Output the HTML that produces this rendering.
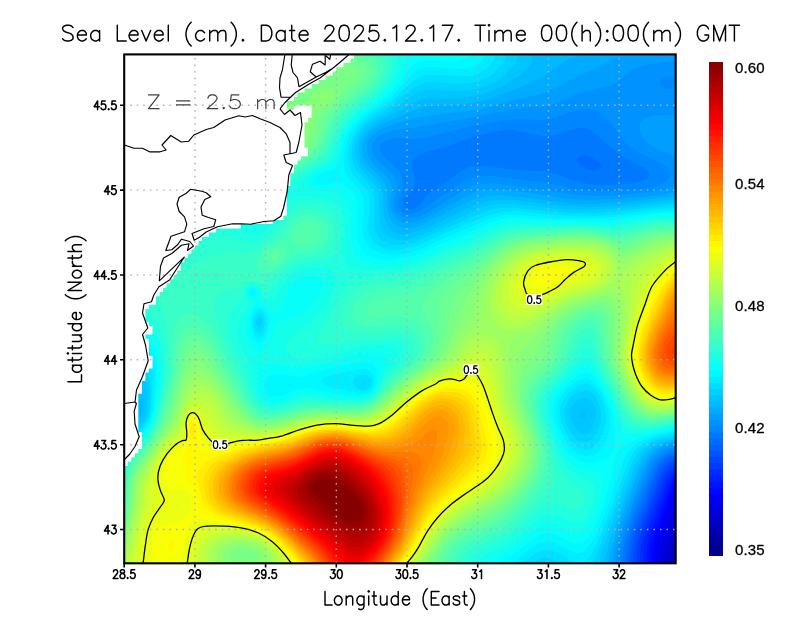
<!DOCTYPE html><html><head><meta charset="utf-8"><title>Sea Level</title><style>html,body{margin:0;padding:0;background:#fff}body{position:relative;width:800px;height:618px;overflow:hidden;font-family:"Liberation Sans",sans-serif}svg{display:block}.cb{position:absolute;left:734.9px;letter-spacing:0.12px;font-family:"Liberation Sans",sans-serif;font-size:15px;line-height:18px;height:18px;color:#000;-webkit-text-stroke:0.3px #000;will-change:transform;white-space:nowrap}</style></head><body><svg role="img" aria-label="Sea Level (cm) map" width="800" height="618" viewBox="0 0 800 618"><rect width="800" height="618" fill="#fff"/><g><clipPath id="pc"><rect x="124.2" y="54.4" width="551.5" height="508.9"/></clipPath><g clip-path="url(#pc)" fill-rule="evenodd" shape-rendering="geometricPrecision"><rect x="124.2" y="54.4" width="551.5" height="508.9" fill="#0000ac"/><path d="M121 51l555 0 0 513 -555 0z" fill="#0000b9"/><path d="M121 51l555 0 0 503 -3 5 -2 5 -550 0z" fill="#0000c6"/><path d="M121 51l555 0 0 488 -3 6 -3 7 -3 12 -546 0z" fill="#0000d2"/><path d="M121 51l555 0 0 464 -10 34 -2 7 -1 8 -542 0z" fill="#0000df"/><path d="M121 51l555 0 0 449 -14 43 -1 9 -1 12 -539 0z" fill="#0000ec"/><path d="M121 51l555 0 0 440 -3 7 -14 42 -2 12 -1 12 -535 0z" fill="#0000f9"/><path d="M121 51l555 0 0 434 -3 5 -2 5 -15 42 -2 9 -1 6 0 12 -532 0z" fill="#0006ff"/><path d="M121 51l555 0 0 428 -3 4 -3 7 -16 44 -4 15 0 6 0 9 -529 0z" fill="#0013ff"/><path d="M121 51l555 0 0 424 -3 3 -4 8 -18 45 -2 9 -2 9 -1 6 1 9 -526 0z" fill="#0020ff"/><path d="M121 51l555 0 0 420 -4 3 -5 9 -18 45 -3 9 -2 9 -1 9 1 9 -523 0z" fill="#002dff"/><path d="M121 51l555 0 0 416 -3 2 -3 3 -5 8 -18 45 -4 12 -2 9 -1 9 0 9 -519 0z" fill="#0039ff"/><path d="M121 51l555 0 0 413 -3 1 -3 3 -6 8 -19 46 -4 12 -3 12 -1 9 0 9 -516 0z" fill="#0046ff"/><path d="M121 51l555 0 0 410 -3 1 -4 3 -3 3 -4 6 -17 42 -6 15 -3 12 -2 12 0 9 -513 0z" fill="#0053ff"/><path d="M121 51l555 0 0 407 -6 3 -5 4 -4 6 -3 6 -17 42 -6 15 -3 15 -1 9 0 6 -510 0z" fill="#0060ff"/><path d="M121 51l555 0 0 404 -6 2 -6 5 -5 6 -3 6 -18 45 -5 12 -4 18 -1 15 -507 0z" fill="#006cff"/><path d="M121 51l555 0 0 402 -6 2 -6 3 -6 7 -3 6 -19 45 -5 15 -5 18 -1 15 -504 0zM580 156l-3 3 1 3 2 3 4 3 5 2 6 1 3 -1 4 -2 -1 -3 -2 -3 -7 -4 -6 -3 -3 0z" fill="#0079ff"/><path d="M121 51l555 0 0 399 -6 2 -8 4 -5 6 -5 8 -19 46 -5 15 -5 18 -1 15 -501 0zM574 129l-18 6 -9 1 -6 0 -18 -4 -9 -2 -9 0 -12 2 -18 4 -27 10 -24 7 -6 3 -5 3 -1 3 0 6 3 12 -1 6 -1 3 -7 7 -2 2 -1 3 0 4 2 2 4 2 3 0 5 -2 4 -3 6 -9 3 -2 15 -10 12 -9 6 -4 6 -3 6 -1 6 0 6 0 27 4 24 1 6 0 9 2 24 9 7 1 11 2 15 0 15 -1 9 -1 11 -3 4 -3 0 -3 -1 -3 -4 -3 -19 -10 -7 -5 -8 -6 -12 -11 -6 -5 -3 -2 -6 -1 -3 0z" fill="#0086ff"/><path d="M121 51l555 0 0 27 -3 -1 -3 0 -6 1 -4 3 0 3 2 3 2 1 3 1 3 0 3 -2 3 -2 0 363 -9 2 -6 4 -6 6 -5 8 -20 48 -4 12 -5 18 -2 9 -1 9 -497 0zM574 111l-15 5 -9 3 -9 1 -24 -1 -12 1 -34 6 -44 11 -15 2 -18 -1 -3 1 -6 2 -4 3 -1 3 0 3 1 3 4 5 12 11 4 5 2 6 1 6 -6 15 0 3 1 3 1 3 3 3 3 1 6 0 6 -2 4 -2 14 -10 27 -18 9 -4 9 -2 12 0 21 3 27 3 36 7 18 2 21 0 24 -2 15 -2 8 -4 4 -3 2 -3 1 -3 -1 -3 -1 -3 -4 -3 -3 -2 -21 -10 -9 -6 -7 -6 -14 -19 -6 -6 -6 -5 -9 -2 -6 0z" fill="#0093ff"/><path d="M121 51l555 0 0 7 -9 3 -25 5 -8 3 -5 3 -13 11 -6 3 -27 6 -9 3 -18 8 -9 3 -9 1 -24 2 -45 9 -45 8 -33 5 -9 3 -6 4 -3 5 -1 4 0 6 4 6 13 12 3 3 4 6 1 6 0 3 -3 12 0 6 1 3 2 3 4 3 5 2 6 0 9 -2 6 -3 39 -24 9 -4 6 -1 9 -1 9 1 39 5 39 6 21 1 24 -1 30 -3 14 -3 10 -4 0 260 -9 3 -5 2 -4 3 -6 6 -4 6 -19 48 -6 15 -6 21 -2 15 -494 0zM646 117l6 -1 6 -1 18 0 0 41 -15 -5 -7 -4 -5 -3 -6 -6 -3 -6 0 -6 0 -3 2 -3z" fill="#009fff"/><path d="M121 51l543 0 0 3 -3 1 -12 1 -24 0 -9 2 -6 3 -16 8 -20 9 -21 11 -12 5 -24 5 -24 7 -12 3 -15 2 -39 5 -12 2 -24 7 -10 4 -8 6 -3 3 -2 3 -1 6 0 6 3 6 3 5 14 13 4 6 1 6 -2 15 1 6 2 3 2 3 3 3 2 2 6 2 3 0 6 -1 9 -3 45 -24 9 -4 6 -1 9 0 12 0 27 3 36 6 24 1 24 -1 27 -2 18 -2 15 -4 0 252 -9 2 -4 2 -6 3 -6 6 -5 8 -3 7 -22 54 -6 21 -2 9 -1 9 -491 0z" fill="#00acff"/><path d="M121 51l463 0 0 3 -13 4 -6 3 -6 4 -13 10 -5 3 -13 6 -32 13 -12 4 -12 2 -12 2 -27 1 -9 1 -12 4 -27 12 -6 3 -6 3 -6 6 -3 6 -2 6 0 3 1 6 3 6 4 5 12 12 3 4 1 3 1 6 0 15 1 6 1 3 2 4 3 3 3 3 6 2 3 0 6 0 9 -3 13 -6 38 -19 6 -2 9 -2 9 -1 15 1 18 2 36 5 24 1 18 -1 21 -1 30 -4 18 -2 0 245 -12 3 -9 5 -6 5 -5 8 -5 9 -21 54 -6 21 -3 12 -1 6 -487 0z" fill="#00b9ff"/><path d="M121 51l412 0 0 6 -1 3 -1 3 -4 6 -11 9 -17 10 -12 5 -12 3 -15 2 -27 -1 -6 1 -6 2 -9 4 -13 7 -20 10 -7 5 -6 6 -4 6 -3 6 -1 6 1 6 2 6 3 5 13 13 4 6 2 6 0 15 1 9 4 9 3 5 3 2 6 2 6 0 9 -2 12 -4 48 -23 9 -3 9 -2 9 0 12 0 48 6 27 1 27 -1 60 -7 0 240 -12 3 -9 4 -6 4 -3 3 -4 6 -6 12 -21 54 -7 21 -4 18 -483 0zM139 399l-3 6 -3 9 0 3 3 2 4 -2 2 -3 1 -3 0 -6 -1 -6zM583 411l-3 2 0 1 0 3 3 3 3 -3 0 -3z" fill="#00c6ff"/><path d="M121 51l397 0 -1 6 0 3 -4 6 -8 9 -6 5 -6 3 -9 4 -12 3 -12 1 -27 -1 -6 0 -6 2 -9 4 -17 12 -22 13 -6 5 -6 7 -3 5 -3 9 0 6 1 6 2 6 2 3 14 15 3 6 2 6 1 24 1 6 1 4 4 5 4 3 4 2 9 1 6 -1 6 -2 9 -3 54 -25 9 -3 9 -2 9 0 9 0 45 5 15 1 15 0 21 -1 39 -4 27 -3 0 235 -12 3 -11 4 -5 3 -3 3 -5 6 -6 12 -19 48 -12 33 -4 15 -478 0 0 -128 3 -2 3 -1 12 -9 3 -2 3 -5 1 -3 1 -6 0 -9 0 -9 -2 -9 -3 -5 -3 1 -3 4 -5 12 -7 14 -3 1zM580 399l-3 1 -3 2 -2 3 -1 3 -1 6 1 6 3 7 3 4 2 1 4 2 3 0 3 -2 3 -4 3 -8 1 -9 -2 -6 -2 -3 -3 -3 -3 -1 -3 0z" fill="#00d2ff"/><path d="M121 51l385 0 0 6 -3 6 -2 3 -5 6 -9 6 -9 4 -9 1 -12 1 -24 -2 -6 0 -6 2 -9 5 -20 16 -22 15 -7 6 -5 6 -3 6 -3 9 0 9 1 6 2 6 2 3 11 12 4 6 1 3 2 6 -1 24 1 9 2 3 2 4 3 3 6 2 6 2 6 0 6 -1 9 -2 9 -4 18 -8 39 -17 9 -3 9 -2 9 0 9 0 39 4 15 1 21 0 18 -1 42 -5 24 -2 0 230 -15 3 -12 5 -6 5 -3 3 -4 5 -6 12 -37 96 -33 0 -3 -3 -4 -1 -6 -2 -3 0 -6 2 -2 1 -4 3 -411 0 0 -120 21 -18 3 -4 2 -5 2 -6 1 -18 -1 -15 -2 -9 -2 -4 -1 -2 -2 -1 -3 0 -3 3 -2 4 -5 15 -5 11 -3 0zM259 317l-1 1 -2 3 0 3 1 3 2 2 2 -2 1 -2 0 -4 -1 -3zM364 382l-1 2 1 1 1 -1zM577 393l-6 4 -4 5 -2 6 -1 3 1 6 1 6 2 5 3 5 3 4 3 3 3 2 3 0 3 0 3 -1 3 -2 3 -3 3 -5 2 -5 1 -6 0 -9 -3 -9 -3 -6 -3 -3 -3 -2 -3 -1 -3 1z" fill="#00dfff"/><path d="M121 51l375 0 0 3 -1 3 -3 6 -6 6 -8 5 -6 2 -9 0 -33 -1 -6 0 -6 3 -6 4 -15 14 -6 6 -21 14 -5 4 -6 6 -4 6 -3 6 -3 9 -1 9 1 9 3 8 4 4 8 10 3 4 2 4 1 9 -2 24 1 6 2 3 2 5 3 2 3 2 6 3 6 1 6 0 6 -1 9 -2 11 -4 22 -10 39 -16 9 -3 9 -2 15 -1 39 4 39 1 18 -1 42 -6 21 -1 0 225 -18 4 -11 4 -5 3 -4 3 -5 6 -6 12 -20 54 -9 22 -6 12 -3 5 -5 6 -9 0 -4 -3 -14 -9 -4 -1 -6 -1 -6 1 -6 3 -11 7 -3 3 -400 0 0 -114 11 -12 10 -9 3 -4 3 -5 2 -6 1 -6 1 -24 -1 -15 -2 -9 -4 -5 -3 -2 -3 0 -3 1 -3 4 -3 8 -6 19 -3 0zM256 315l-1 3 -1 3 0 6 2 5 3 2 3 -2 1 -2 1 -3 1 -6 -1 -3 -2 -4 -3 -1zM361 375l-3 1 -3 2 -2 3 0 3 2 3 3 2 3 1 3 0 3 -1 3 -2 1 -3 1 -3 -2 -3 -3 -3 -3 0zM583 384l-3 1 -6 4 -5 4 -4 4 -3 5 -1 3 -1 3 0 6 2 9 2 6 4 8 3 4 6 6 6 2 3 1 6 -2 3 -2 3 -4 3 -4 3 -9 2 -6 0 -6 -1 -6 -1 -6 -3 -6 -3 -5 -3 -5 -3 -2 -3 -2 -3 -1z" fill="#00ecff"/><path d="M121 51l364 0 0 3 -1 3 -2 3 -4 4 -6 3 -6 1 -9 1 -24 -2 -6 0 -6 1 -6 3 -6 6 -11 13 -6 6 -7 6 -18 13 -6 5 -6 6 -4 6 -4 9 -2 9 -1 12 0 6 1 3 3 6 11 12 2 4 2 5 1 9 -2 21 1 6 2 6 2 5 3 3 3 2 6 3 6 1 9 1 9 -1 9 -2 9 -3 21 -10 24 -10 21 -9 9 -3 9 -2 15 0 36 3 45 0 15 -1 36 -5 12 -1 12 0 0 220 -19 4 -11 4 -5 2 -5 3 -6 6 -4 6 -3 6 -16 46 -8 20 -7 14 -6 8 -3 2 -3 1 -3 0 -6 -2 -12 -6 -6 -3 -6 -1 -3 1 -6 2 -6 4 -18 13 -3 3 -390 0 0 -109 11 -14 13 -12 3 -6 3 -7 2 -8 1 -18 1 -12 -1 -12 -1 -6 -2 -6 -3 -4 -3 -3 -3 -2 -3 0 -3 0 -3 3 -3 6 -6 21 -3 1zM259 309l-3 2 -3 4 -1 3 0 6 1 6 1 3 2 4 3 1 3 -1 3 -4 2 -6 0 -6 -1 -6 -2 -3 -2 -2zM361 369l-30 6 -8 3 -2 3 2 3 7 3 16 3 12 3 6 0 3 -1 3 -1 3 -4 1 -3 0 -6 -1 -3 -3 -4 -3 -1zM586 378l-3 1 -6 2 -8 6 -6 6 -4 6 -1 3 -1 3 -1 6 1 6 2 10 4 8 5 10 5 5 4 4 3 1 6 1 6 -1 3 -1 5 -4 3 -3 3 -6 2 -6 2 -6 0 -6 0 -6 -2 -9 -3 -9 -3 -6 -4 -5 -6 -7 -3 -2z" fill="#00f9ff"/><path d="M121 51l350 0 0 3 -2 2 -3 2 -6 2 -9 1 -21 -1 -6 0 -6 1 -6 4 -3 3 -11 16 -8 9 -8 7 -21 16 -4 4 -5 6 -4 6 -4 9 -5 21 -2 5 -3 3 -9 2 -6 2 -3 3 -1 3 1 3 3 2 6 0 12 -3 3 1 6 3 6 6 4 6 1 6 0 6 0 21 0 6 2 6 2 6 3 3 4 3 5 2 9 2 9 1 12 -2 9 -2 12 -4 18 -9 27 -10 21 -10 9 -3 6 -1 6 -1 9 0 30 2 54 1 12 -1 36 -6 12 -1 12 0 0 216 -28 6 -14 5 -8 4 -4 3 -5 6 -2 3 -5 27 -6 21 -4 12 -5 10 -5 8 -4 6 -3 2 -3 1 -3 0 -3 0 -6 -2 -9 -5 -6 -2 -6 -1 -3 1 -3 1 -6 3 -21 16 -12 7 -3 3 -378 0 0 -104 3 -3 4 -7 4 -6 13 -12 5 -9 2 -6 2 -9 3 -21 0 -12 0 -12 -3 -12 -3 -5 -3 -4 -3 -3 -3 -1 -3 -1 -3 0 -3 1 -3 4 -3 8 -3 15 -3 0zM250 290l-1 1 0 3 1 2 3 1 3 -3 0 -3 -3 -2zM259 306l-3 1 -4 5 -2 6 0 6 0 6 2 6 1 3 3 3 3 1 3 -1 3 -3 2 -3 2 -9 1 -6 -1 -6 -4 -6 -3 -2zM355 363l-24 5 -21 6 -9 3 -6 -1 -15 -2 -6 0 -3 1 -3 1 -3 4 -1 4 1 6 3 5 3 2 3 0 7 -1 17 -7 6 -1 9 1 24 5 21 2 6 -1 3 0 3 -2 3 -3 4 -6 0 -6 -1 -9 -3 -5 -3 -1 -6 -1zM586 372l-3 1 -6 3 -9 7 -7 7 -5 6 -1 3 -2 6 -1 6 2 9 3 9 5 13 6 10 4 4 5 4 6 2 6 1 6 0 6 -2 9 -5 3 -3 1 -3 1 -3 0 -15 -1 -9 -1 -9 -3 -9 -4 -9 -5 -9 -6 -9 -3 -3 -3 -2z" fill="#06fff9"/><path d="M121 51l290 0 0 3 -2 1 -3 5 -7 15 -8 12 -9 9 -24 19 -5 5 -4 6 -4 6 -3 6 -5 18 -3 6 -4 3 -14 7 -3 2 -3 3 -1 3 -1 3 1 3 3 3 7 2 18 1 3 2 3 1 3 3 3 6 1 6 1 27 2 12 2 5 3 4 3 2 6 3 9 1 12 1 12 -2 12 -2 9 -3 24 -11 24 -10 24 -11 9 -3 6 -1 12 -1 27 1 30 0 33 1 9 -1 33 -5 12 -1 12 0 0 211 -39 8 -6 0 -3 0 -3 -1 -3 -3 -1 -2 -8 -24 -6 -12 -6 -11 -6 -9 -3 -4 -3 -2 -3 -1 -3 0 -3 2 -6 5 -12 11 -8 9 -3 6 -1 3 -1 9 2 12 5 14 6 13 6 9 3 4 6 4 6 2 12 3 4 2 3 3 1 6 -1 9 -3 12 -4 12 -4 6 -4 6 -4 4 -3 1 -3 1 -6 -1 -12 -6 -6 -2 -6 -1 -6 2 -9 6 -18 15 -21 12 -4 2 -2 3 -366 0 0 -98 3 -4 2 -6 4 -6 5 -6 10 -10 3 -4 4 -7 2 -6 2 -9 3 -24 1 -12 -1 -15 -3 -12 -2 -3 -3 -5 -6 -5 -6 -3 -3 0 -3 0 -3 1 -2 3 -1 3 -3 13 -3 0 0 -140 3 0 1 -2 -1 0 -3 0zM172 204l-3 1 -4 2 1 3 4 3 5 2 6 1 6 0 6 -2 5 -4 1 -3 -3 -3 -6 -1 -9 0zM250 201l-6 3 -1 3 0 3 4 6 3 4 3 1 3 1 3 0 3 -2 3 -4 3 -6 0 -3 -1 -3 -2 -2 -3 -1 -6 0zM304 276l-3 1 -3 2 -3 2 -3 4 -3 6 -8 18 -1 2 -3 3 -3 -1 -9 -9 -3 -1 -6 -3 2 -3 0 -3 0 -3 -3 -3 -2 -1 -3 1 -3 3 0 3 2 3 1 2 3 1 3 0 -1 3 -4 6 -3 6 -1 6 -1 6 1 9 2 6 4 6 3 3 3 1 3 -1 3 -2 4 -7 8 -18 3 -3 15 -4 9 -4 9 -7 5 -6 2 -3 2 -6 1 -6 -1 -3 -1 -3 -5 -3 -6 -1zM364 354l-48 12 -12 2 -9 0 -24 -5 -6 1 -3 1 -1 1 -1 3 -2 3 0 9 1 9 3 6 3 3 3 2 3 1 3 0 6 -1 18 -6 6 -1 9 0 21 3 21 1 6 0 6 -1 6 -4 4 -6 3 -6 2 -11 4 -10 0 -3 -3 -3 -4 -1 -6 0z" fill="#13ffec"/><path d="M121 51l277 0 0 9 -1 6 -3 9 -3 6 -5 6 -8 9 -17 13 -6 5 -8 9 -6 12 -7 19 -3 5 -3 3 -12 6 -5 3 -6 6 -7 8 -3 3 -6 2 -6 0 -162 0zM290 198l2 -1 3 -1 3 0 12 0 18 3 6 2 3 3 3 3 2 3 2 9 1 15 0 24 1 6 3 3 3 1 6 1 9 1 12 0 12 -1 12 -1 9 -3 12 -4 21 -10 24 -9 27 -13 6 -2 9 -2 12 -1 27 1 27 -1 27 2 9 0 9 -2 30 -5 12 -1 12 0 0 207 -15 3 -18 3 -9 0 -6 -2 -3 -3 -3 -4 -12 -29 -15 -26 -3 -5 -3 -3 -3 -1 -3 1 -6 5 -25 26 -2 3 -3 6 -1 3 0 6 1 9 3 12 9 24 5 9 4 6 3 3 6 4 12 5 3 3 2 3 1 6 -1 6 -2 9 -3 6 -3 5 -3 3 -3 2 -3 0 -6 -1 -12 -5 -6 -2 -3 0 -6 1 -9 6 -18 15 -6 5 -6 3 -15 7 -6 4 -3 2 -2 3 -1 3 -357 0 0 -93 3 -3 3 -9 3 -6 5 -6 10 -10 4 -5 4 -9 3 -9 6 -30 1 -15 -1 -12 -2 -11 -3 -9 -4 -7 -5 -5 -9 -5 -9 -3 -3 0 -6 0 0 -84 3 0 9 -3 9 -1 9 2 18 4 9 0 6 0 9 -2 21 -10 6 -2 3 0 6 0 3 2 13 8 5 3 3 1 6 0 6 -3 3 -3 12 -20 6 -7zM301 270l-6 2 -5 4 -5 6 -8 13 -3 3 -3 2 -3 0 -3 -1 -2 -2 -1 0 -2 -6 -2 -3 -2 -1 -3 -1 -3 0 -3 2 -2 3 0 3 1 3 2 3 1 3 -2 6 -4 6 -3 6 -2 6 0 9 3 9 8 18 4 21 3 10 3 5 4 3 5 3 3 1 9 -2 18 -5 6 -2 9 0 21 3 21 0 9 -1 6 -2 5 -4 2 -3 4 -6 4 -10 3 -5 8 -9 2 -3 1 -3 -1 -3 -2 -3 -2 -1 -3 -1 -6 -1 -9 0 -9 1 -15 4 -28 7 -17 3 -6 0 -8 -3 -5 -3 -2 -3 0 -3 0 -3 4 -6 6 -6 17 -13 6 -6 4 -5 4 -6 4 -9 4 -9 1 -6 0 -3 0 -3 -2 -1 -3 -2 -6 -1 -9 -1 -9 0z" fill="#20ffdf"/><path d="M121 51l268 0 0 3 2 3 1 3 1 3 -1 6 -2 6 -3 6 -5 6 -9 9 -19 15 -6 6 -4 6 -5 9 -7 18 -4 7 -2 2 -4 3 -11 6 -16 11 -6 2 -6 1 -18 2 -39 -1 -105 1zM300 204l4 0 6 -1 10 1 8 3 3 3 3 3 2 3 2 6 2 9 0 6 -1 6 -2 6 -1 3 -5 5 -6 3 -24 4 -6 2 -9 7 -6 6 -9 11 -3 2 -3 0 -6 -5 -3 -2 -3 -1 -3 0 -3 1 -3 3 -1 3 -1 9 -1 2 -6 4 -4 3 -2 4 -1 5 -1 6 1 6 1 6 3 10 11 23 8 21 2 6 5 6 4 4 6 2 6 1 6 -2 18 -5 6 -1 9 -1 24 2 12 0 12 0 6 -2 6 -3 4 -4 4 -6 7 -12 15 -15 4 -6 0 -3 0 -3 -1 -3 -3 -3 -3 -1 -3 -2 -9 0 -9 0 -51 6 -6 0 -3 -1 -2 -2 0 -3 1 -3 10 -17 15 -28 3 -5 3 -3 6 -3 6 -2 6 -1 33 -4 15 -4 9 -3 23 -11 25 -10 24 -12 9 -4 6 -1 12 -1 27 0 27 -1 12 0 18 2 9 0 9 -1 27 -5 12 -2 9 1 3 0 0 202 -18 4 -15 1 -6 0 -3 -1 -3 -1 -3 -3 -3 -3 -3 -5 -10 -22 -12 -24 -8 -16 -3 -4 -3 -1 -3 2 -3 2 -10 14 -17 18 -5 6 -4 7 -2 8 1 6 1 9 15 45 3 6 4 6 5 5 9 6 3 4 1 3 1 3 -2 6 -3 4 -3 1 -3 1 -3 -1 -9 -3 -6 -2 -6 1 -6 2 -9 6 -18 17 -9 7 -9 5 -16 7 -8 5 -4 4 -1 3 0 3 -349 0 0 -86 3 -3 2 -10 4 -9 5 -6 11 -12 5 -7 4 -8 3 -9 6 -33 2 -15 -1 -15 -2 -11 -3 -10 -3 -6 -6 -7 -18 -17 -6 -3 -3 -1 -3 0 0 -46 6 1 12 4 6 2 6 0 6 -1 21 -4 12 -3 9 -4 15 -8 6 -2 3 0 6 0 3 1 9 5 6 3 3 0 6 -1 9 -4 6 -5 3 -3 7 -12 5 -6 6 -5z" fill="#2dffd2"/><path d="M121 51l260 0 0 3 4 3 2 3 1 6 -1 6 -3 6 -6 9 -6 6 -20 16 -5 5 -5 6 -6 12 -8 18 -3 5 -6 5 -24 14 -6 2 -6 1 -18 1 -39 0 -36 0 -69 0zM301 210l3 0 6 -1 9 2 6 3 3 2 2 3 3 6 1 9 -2 9 -4 6 -3 3 -6 3 -6 2 -12 1 -6 2 -3 2 -12 10 -15 11 -3 1 -9 -3 -3 0 -6 3 -6 4 -3 1 -6 0 -6 1 -3 2 -3 3 -3 5 -1 3 1 6 1 6 14 38 12 22 9 21 3 6 3 3 6 4 6 2 6 0 9 -2 15 -4 9 -2 9 0 21 1 15 0 9 0 6 -2 5 -3 4 -3 5 -6 7 -10 3 -4 12 -10 6 -6 4 -6 1 -6 0 -3 -1 -3 -2 -3 -2 -2 -3 -2 -6 -2 -6 -1 -27 2 -12 -1 -6 -1 -3 -1 -4 -4 -1 -3 0 -6 1 -6 4 -9 3 -6 3 -4 3 -3 6 -4 6 -2 6 -1 27 -4 15 -4 9 -4 21 -10 27 -11 27 -15 6 -2 9 -3 12 -1 54 -1 9 0 21 3 6 0 9 -1 27 -6 9 -1 9 0 6 0 0 198 -15 4 -15 1 -9 -2 -3 -1 -4 -3 -3 -3 -4 -6 -19 -39 -5 -12 -7 -20 -3 -3 -3 0 -3 1 -3 3 -3 5 -6 11 -4 6 -7 9 -14 15 -4 6 -2 6 -1 6 1 9 3 9 7 24 4 21 2 12 -2 6 -2 3 -3 3 -14 13 -20 20 -7 6 -11 6 -22 10 -8 5 -2 3 -2 3 0 3 0 3 -342 0 0 -76 3 -2 2 -15 2 -6 3 -6 4 -6 10 -10 3 -4 8 -16 3 -9 4 -18 4 -18 2 -15 -2 -30 -1 -12 -4 -15 -1 -6 0 -6 3 -6 6 -9 6 -6 8 -5 9 -4 30 -11 6 -1 15 3 6 -1 3 -1 22 -16 3 -3 7 -12 4 -4 6 -5z" fill="#39ffc6"/><path d="M121 51l252 0 0 3 5 3 3 3 1 3 1 6 -1 3 -2 6 -4 6 -3 3 -6 6 -16 12 -6 6 -5 6 -5 9 -9 21 -3 6 -3 3 -4 3 -12 7 -9 4 -6 2 -6 1 -15 1 -39 -1 -39 0 -69 0zM301 216l6 -1 6 1 6 2 5 4 2 3 2 6 -1 6 -3 6 -2 3 -6 4 -6 2 -15 2 -3 2 -8 8 -4 3 -6 4 -3 1 -6 1 -3 -1 -3 -1 -1 -1 -1 -3 0 -3 1 -6 4 -6 2 -3 4 -3 12 -6 3 -3 6 -11 3 -4 3 -3zM662 225l14 0 0 195 -12 2 -15 2 -9 -2 -4 -2 -5 -3 -5 -6 -3 -6 -19 -39 -4 -12 -3 -15 -2 -6 -3 -5 -3 -1 -3 1 -3 1 -5 4 -4 6 -8 18 -3 6 -7 8 -12 13 -4 6 -3 6 -1 6 1 9 2 9 7 24 3 15 0 9 -1 6 -3 9 -4 6 -7 9 -17 18 -9 8 -6 5 -6 3 -26 11 -5 3 -3 3 -5 6 -1 3 0 6 -335 0 0 -64 3 3 2 -20 1 -9 3 -9 3 -6 3 -4 9 -9 3 -4 7 -13 4 -9 2 -6 3 -15 7 -24 1 -33 2 -12 2 -6 2 -3 3 -4 3 -2 3 -1 3 0 6 1 3 1 6 5 6 6 6 11 9 20 12 20 8 18 7 9 3 4 4 2 5 2 6 1 9 -1 18 -6 9 -1 9 -1 33 1 12 -1 9 -3 6 -4 5 -5 10 -13 21 -17 2 -3 5 -6 1 -3 1 -6 -2 -6 -3 -6 -4 -3 -6 -3 -9 -1 -21 1 -9 0 -8 -3 -4 -2 -2 -4 0 -3 0 -6 2 -5 3 -4 2 -3 4 -3 6 -3 6 -2 27 -4 6 -1 9 -4 54 -26 27 -15 9 -4 6 -2 12 -1 54 -3 12 1 21 3 6 1 9 -2 21 -5z" fill="#46ffb9"/><path d="M121 51l243 0 0 3 7 3 4 3 2 3 1 3 0 3 0 3 -2 5 -3 4 -2 3 -6 6 -16 13 -8 8 -5 6 -5 9 -7 18 -5 8 -4 4 -5 3 -12 6 -9 3 -15 1 -42 -1 -111 1zM302 222l5 0 5 0 4 2 3 4 1 3 0 3 0 3 -2 3 -5 4 -6 2 -6 0 -6 -1 -2 -2 -1 -1 0 -5 1 -6 2 -3 2 -3zM657 228l10 0 9 0 0 190 -12 3 -9 1 -6 -1 -9 -1 -4 -3 -4 -3 -4 -4 -4 -8 -17 -36 -4 -12 -3 -21 -1 -6 -2 -3 -2 -3 -3 -1 -3 0 -6 2 -4 2 -5 5 -4 4 -2 6 -5 15 -4 8 -6 7 -14 15 -3 6 -2 6 -1 6 1 9 9 30 2 12 0 9 -1 6 -1 6 -3 6 -5 9 -10 12 -11 12 -9 8 -12 7 -27 12 -9 6 -3 3 -3 6 -2 6 0 3 -328 0 0 -54 3 2 2 -11 1 -19 2 -11 3 -6 3 -6 10 -11 5 -7 8 -15 3 -6 12 -45 3 -24 1 -9 2 -6 2 -3 3 -4 3 -2 3 -1 6 0 6 3 6 5 6 9 11 20 20 36 7 9 7 6 6 2 6 0 9 -1 18 -5 9 -2 12 -1 30 1 12 -1 9 -3 6 -4 4 -4 14 -15 22 -18 6 -6 2 -3 1 -3 1 -6 0 -9 -3 -6 -5 -6 -6 -5 -6 -2 -6 -1 -18 2 -6 0 -3 0 -5 -3 -1 -3 -1 -3 2 -3 2 -3 3 -2 9 -3 21 -3 6 -2 6 -2 30 -18 30 -15 24 -16 9 -4 6 -2 6 -1 9 -1 51 -3 15 1 21 5 6 0 6 -1 18 -5zM270 249l4 -2 6 -1 3 1 3 2 0 3 -2 6 -4 4 -3 3 -3 1 -3 0 -3 -1 -1 -1 -2 -3 -1 -3 1 -3 2 -3z" fill="#53ffac"/><path d="M121 51l230 0 0 3 11 3 6 3 3 3 1 3 1 3 -1 6 -2 3 -3 5 -5 4 -16 14 -10 10 -4 6 -3 6 -7 18 -3 5 -3 4 -7 6 -5 3 -6 3 -9 2 -9 1 -39 -1 -120 0zM286 63l-3 3 2 3 4 2 3 1 3 -1 2 -2 1 -2 0 -1 -2 -3 -1 0 -3 0zM655 231l9 -1 12 0 0 186 -12 3 -12 1 -6 -1 -4 -2 -5 -2 -3 -2 -4 -5 -5 -8 -10 -22 -6 -12 -3 -12 -3 -27 -1 -6 -2 -3 -2 -2 -1 -1 -2 0 -3 -1 -6 2 -9 4 -6 4 -5 6 -3 6 -4 15 -4 9 -5 7 -14 14 -4 6 -2 6 0 6 0 9 3 9 7 24 2 12 -1 9 -1 6 -2 6 -3 6 -6 9 -9 11 -9 10 -7 6 -8 5 -6 4 -24 10 -6 4 -6 4 -3 3 -4 6 -3 6 -1 6 -322 0 0 -46 3 2 1 -4 2 -12 1 -21 2 -9 3 -7 3 -5 12 -15 11 -18 4 -9 2 -6 6 -21 5 -18 3 -18 1 -9 4 -8 4 -4 2 -1 3 -1 3 1 3 0 6 4 3 4 6 8 8 15 21 36 8 9 4 3 4 3 6 1 9 0 9 -2 18 -5 9 -2 12 0 30 1 11 -2 7 -2 6 -4 3 -2 15 -16 27 -21 5 -6 3 -3 2 -6 2 -9 -1 -6 -1 -6 -6 -12 -2 -6 0 -3 0 -3 4 -6 9 -9 12 -9 30 -18 24 -17 9 -4 12 -3 54 -4 9 0 9 1 9 2 15 4 6 0 6 -1 13 -5zM271 255l3 -2 3 0 1 2 -1 3 -3 2 -3 -2z" fill="#60ff9f"/><path d="M325 57l6 0 9 0 9 1 8 2 6 3 3 3 1 3 0 3 -3 6 -2 3 -16 14 -17 19 -4 6 -6 18 -3 6 -3 4 -3 3 -8 5 -10 4 -9 0 -33 -1 -129 0 0 -78 21 0 45 0 36 1 33 -2 9 1 18 4 6 1 6 0 6 -1 6 -4 5 -6 7 -13 3 -3zM654 234l10 -1 12 -1 0 183 -12 2 -12 1 -9 -3 -6 -3 -3 -3 -5 -7 -5 -9 -10 -21 -3 -9 -2 -12 -2 -24 -1 -6 -2 -6 -3 -3 -3 -2 -3 0 -6 0 -6 2 -9 5 -6 4 -3 3 -5 6 -3 6 -3 15 -2 6 -5 7 -12 11 -3 3 -3 6 -2 6 -1 9 1 9 10 30 2 12 0 9 -1 6 -2 6 -3 6 -6 9 -7 9 -9 9 -9 8 -12 8 -18 7 -8 4 -7 5 -5 4 -5 6 -4 6 -5 9 0 3 -317 0 0 -39 3 1 2 -7 2 -15 2 -21 2 -9 4 -9 12 -15 15 -24 3 -6 2 -6 5 -21 6 -18 4 -21 3 -6 4 -4 3 -2 3 0 3 1 3 2 3 2 6 8 8 14 21 33 5 6 5 6 5 3 4 2 6 1 9 0 9 -2 18 -5 12 -2 12 0 27 0 12 -1 6 -2 9 -6 18 -18 24 -18 10 -9 4 -6 2 -3 1 -6 1 -12 -1 -15 0 -6 2 -6 3 -6 7 -9 10 -9 18 -13 17 -14 9 -6 10 -4 12 -3 54 -4 9 0 9 1 9 3 12 5 6 1 6 -2 13 -6z" fill="#6cff93"/><path d="M332 66l5 -2 3 0 6 0 6 1 2 1 3 3 1 3 -1 3 -1 3 -3 3 -10 9 -5 9 -4 5 -11 10 -2 3 -5 17 -3 7 -3 5 -3 3 -3 2 -4 2 -8 2 -9 1 -21 -2 -9 -1 -36 1 -96 0 0 -60 102 0 33 -1 30 2 12 0 6 -2 16 -12 3 -3 6 -9zM566 237l17 0 12 1 11 2 6 3 7 4 3 2 3 0 6 -2 14 -7 9 -3 10 -2 12 0 0 178 -6 2 -6 1 -6 0 -6 0 -9 -3 -6 -4 -3 -4 -4 -6 -7 -12 -6 -15 -3 -9 -2 -12 -1 -27 -1 -6 -2 -6 -4 -5 -3 -2 -6 0 -6 2 -9 3 -9 4 -6 4 -6 6 -5 6 -3 6 -3 15 -3 6 -4 5 -11 10 -2 3 -3 6 -2 9 0 6 0 6 2 9 9 27 2 12 0 9 -2 6 -2 6 -3 7 -6 8 -6 7 -9 9 -6 5 -12 8 -18 8 -9 5 -12 9 -6 6 -3 4 -8 14 -1 3 -312 0 0 -32 3 1 2 -8 4 -18 1 -21 2 -10 4 -8 11 -15 17 -27 3 -6 2 -6 7 -24 6 -18 4 -14 3 -5 2 -2 1 0 3 -1 3 1 3 2 3 2 21 31 13 19 8 10 3 2 6 4 6 1 9 1 9 -2 21 -6 9 -2 15 -1 30 1 6 -1 6 -1 6 -3 6 -4 18 -17 32 -24 7 -6 2 -3 2 -3 3 -6 3 -12 4 -21 2 -6 3 -6 5 -9 8 -9 25 -24 7 -6 8 -5 6 -3 6 -2 12 -2z" fill="#79ff86"/><path d="M325 87l3 0 3 1 3 2 0 3 0 3 -1 3 -5 5 -13 7 -1 3 -2 15 -3 9 -2 4 -3 3 -3 2 -6 3 -6 1 -6 0 -6 -1 -15 -3 -9 -1 -33 2 -99 0 0 -43 99 0 33 1 30 -2 18 0 3 0 3 -2 4 -6 5 -5 3 -2zM673 237l3 0 0 174 -9 3 -6 0 -6 0 -6 -1 -4 -2 -5 -3 -3 -3 -5 -6 -4 -6 -5 -12 -5 -12 -2 -6 -2 -12 1 -24 0 -9 -3 -9 -2 -3 -3 -3 -3 -2 -3 0 -6 1 -15 4 -6 2 -6 4 -9 6 -6 6 -4 6 -6 9 -5 12 -2 3 -10 11 -3 4 -3 9 -1 12 1 12 2 9 9 24 2 12 0 6 -1 9 -2 6 -3 6 -4 7 -6 7 -7 7 -8 8 -12 7 -27 14 -6 4 -8 6 -5 6 -5 6 -10 18 -308 0 0 -26 3 1 4 -17 4 -18 1 -18 2 -9 4 -9 9 -12 9 -15 12 -18 4 -9 8 -28 9 -20 3 -5 1 -1 2 -1 3 1 3 2 3 3 18 22 12 18 5 6 7 7 3 2 6 3 9 2 9 -1 9 -2 21 -6 12 -2 15 0 24 0 6 0 6 -1 6 -3 6 -4 21 -19 34 -24 7 -6 2 -3 4 -6 17 -42 4 -9 5 -9 8 -12 11 -12 10 -9 8 -6 10 -4 9 -2 39 -4 15 0 12 1 9 2 8 4 10 7 3 0 3 0 15 -8 9 -4 9 -2zM238 549l-3 1 -3 2 -2 3 0 3 2 3 3 2 6 1 6 0 8 -3 4 -3 -1 -3 -2 -2 -5 -4 -7 -1z" fill="#86ff79"/><path d="M321 96l1 0 3 -1 1 1 -1 3 -3 1 -2 -1zM286 114l6 0 6 2 3 2 3 4 1 4 -1 6 -2 6 -4 4 -6 2 -3 1 -5 -1 -4 -1 -5 -2 -5 -3 -9 -6 -3 -3 1 -3 9 -6 9 -4zM211 120l9 0 9 1 11 2 7 3 0 3 -4 3 -11 4 -6 1 -9 0 -33 -2 -42 1 -21 0 0 -14 21 -1 42 1zM671 240l5 0 0 169 -9 3 -6 0 -6 0 -6 -1 -5 -3 -4 -3 -5 -6 -4 -5 -7 -16 -5 -15 -2 -12 2 -27 0 -9 -3 -9 -3 -5 -3 -4 -3 -1 -3 0 -21 6 -9 3 -8 4 -12 9 -13 13 -15 14 -6 8 -3 7 -2 21 0 9 0 6 3 12 10 27 2 12 0 6 0 6 -2 6 -3 6 -3 6 -5 6 -8 9 -7 6 -12 8 -27 14 -9 7 -6 4 -9 11 -14 22 -163 0 2 -3 1 -3 -1 -3 -2 -3 -3 -3 -6 -3 -6 -1 -6 -1 -6 1 -4 1 -4 3 -3 3 -1 3 -1 3 3 6 -104 0 0 -19 3 1 5 -18 4 -21 2 -21 2 -9 3 -6 8 -12 12 -19 8 -11 4 -6 4 -9 8 -27 6 -10 3 -4 3 -2 3 -1 3 1 6 5 6 6 9 11 10 15 8 9 6 5 9 3 9 2 9 -1 9 -2 21 -6 12 -2 15 -1 24 1 6 -1 6 -1 6 -2 6 -4 18 -16 6 -5 36 -24 7 -6 4 -6 7 -13 13 -20 4 -9 7 -21 6 -12 4 -6 8 -8 6 -6 6 -4 9 -4 12 -3 39 -4 15 0 9 1 9 3 8 4 7 7 3 2 3 0 3 -1 13 -8 8 -3 9 -3z" fill="#93ff6c"/><path d="M571 243l9 0 9 1 6 0 7 2 5 3 4 3 3 3 5 8 3 1 3 0 13 -9 11 -5 15 -5 12 -3 0 166 -9 2 -6 1 -6 -1 -6 -1 -6 -4 -3 -2 -3 -4 -4 -6 -5 -9 -3 -9 -3 -9 -2 -6 0 -12 3 -30 0 -6 -1 -6 -4 -9 -4 -6 -4 -1 -3 1 -12 5 -18 4 -9 4 -8 5 -9 6 -16 14 -6 3 -15 6 -3 3 -1 4 -1 3 1 15 0 18 1 9 1 9 2 6 9 26 3 10 1 6 0 6 -1 6 -2 6 -4 9 -5 6 -5 6 -8 8 -12 8 -30 17 -9 6 -6 6 -8 9 -9 15 -7 9 -152 0 1 -3 0 -3 -2 -3 -4 -6 -5 -3 -6 -3 -6 -1 -6 -1 -6 1 -6 1 -6 3 -3 3 -2 3 -1 3 0 3 1 6 -97 0 0 -12 3 1 4 -16 7 -30 2 -21 2 -8 4 -7 17 -28 11 -14 4 -6 12 -33 3 -6 3 -3 3 -2 3 -1 3 1 6 3 9 9 6 8 7 12 6 6 3 3 5 4 6 2 6 2 9 0 9 0 9 -2 21 -7 12 -2 15 -1 27 1 6 0 6 -2 9 -5 6 -4 12 -11 9 -7 15 -11 23 -14 7 -6 4 -6 8 -12 3 -3 10 -9 5 -6 2 -6 2 -21 2 -6 2 -6 3 -6 4 -6 9 -9 9 -7 6 -3 6 -2 15 -3z" fill="#9fff60"/><path d="M563 246l14 0 12 0 9 2 6 3 6 4 4 6 2 6 2 9 -2 2 0 1 -7 6 -11 6 -6 2 -16 4 -11 5 -16 10 -14 11 -6 3 -6 2 -9 1 -9 0 -6 -2 -3 -3 -4 -9 -1 -9 -1 -9 2 -9 2 -6 3 -6 4 -6 5 -6 5 -4 6 -4 6 -3 6 -2 8 -2zM671 246l5 -1 0 161 -9 3 -9 0 -9 -3 -6 -3 -3 -4 -5 -6 -3 -6 -4 -9 -3 -9 -3 -9 0 -9 1 -9 3 -24 0 -12 -1 -7 -5 -14 -1 -6 1 -3 3 -3 6 -6 8 -6 12 -6zM477 336l4 -1 6 -1 3 1 3 1 3 3 3 5 2 4 3 12 2 27 2 12 4 12 9 21 2 9 1 9 -1 9 -3 7 -5 8 -7 9 -6 6 -8 6 -7 5 -27 15 -9 7 -6 5 -9 10 -11 18 -7 9 -143 0 -1 -3 -2 -6 -4 -5 -4 -4 -5 -3 -8 -3 -7 -1 -6 0 -6 0 -6 2 -6 2 -4 3 -2 3 -2 6 0 3 1 6 -92 0 0 -4 3 0 5 -17 8 -36 2 -21 3 -9 18 -31 3 -4 9 -10 4 -6 2 -3 5 -15 4 -10 3 -5 3 -5 3 -2 3 -1 3 0 6 3 6 5 3 4 10 17 5 6 5 3 6 3 10 3 9 1 12 -1 9 -2 21 -6 15 -3 15 0 24 1 9 -1 6 -2 6 -3 6 -5 15 -13 12 -9 15 -10 22 -13 7 -6 10 -13 3 -3 3 -2z" fill="#acff53"/><path d="M556 249l15 -1 12 1 9 1 9 3 6 4 3 4 1 3 1 6 -1 3 -2 6 -5 5 -6 4 -6 2 -18 5 -6 2 -33 20 -9 4 -6 2 -6 0 -5 -2 -4 -2 -4 -4 -3 -6 -2 -6 -1 -6 1 -6 2 -6 2 -6 4 -6 8 -9 5 -4 6 -3 6 -3 6 -2zM672 249l4 -1 0 156 -9 3 -6 0 -9 -2 -6 -3 -6 -5 -4 -7 -6 -12 -4 -12 -2 -9 0 -9 6 -39 1 -9 -1 -18 1 -6 3 -3 6 -6zM475 345l3 -1 3 -1 3 0 3 1 3 2 3 2 3 6 3 11 3 22 2 12 4 12 9 21 3 9 1 9 -1 6 -3 8 -4 7 -5 7 -8 8 -13 10 -21 12 -9 6 -9 7 -6 6 -6 7 -14 21 -7 9 -136 0 -2 -6 -4 -6 -5 -5 -5 -4 -5 -3 -8 -2 -6 -1 -6 -1 -9 1 -6 1 -5 2 -5 3 -2 3 -3 6 -1 6 0 6 -81 0 5 -18 9 -39 1 -6 1 -15 2 -6 10 -21 6 -10 6 -8 9 -9 2 -3 3 -6 3 -9 4 -9 3 -5 6 -6 3 -1 3 0 3 0 3 2 6 6 3 5 6 11 2 3 3 3 5 3 5 2 12 3 12 1 12 -1 9 -2 24 -7 12 -2 15 -1 24 1 9 -1 6 -1 7 -4 5 -3 18 -16 12 -9 15 -9 18 -9 7 -5 7 -6 7 -7z" fill="#b9ff46"/><path d="M552 252l16 -1 12 0 9 1 9 3 4 3 3 3 2 3 0 6 0 3 -3 6 -3 3 -6 4 -6 2 -15 4 -6 2 -24 13 -15 6 -6 2 -6 1 -6 -2 -3 -2 -3 -3 -2 -6 -1 -9 0 -6 2 -6 5 -9 5 -6 3 -3 9 -5 9 -4zM673 252l3 -1 0 152 -9 2 -6 0 -6 -1 -6 -2 -6 -5 -5 -7 -5 -9 -5 -12 -1 -9 -1 -9 2 -12 6 -30 2 -18 3 -9 4 -6 6 -6 11 -9zM474 354l4 -1 3 0 3 0 3 2 2 2 3 6 3 9 4 21 2 9 4 9 9 21 2 6 1 9 -1 9 -2 6 -3 6 -6 8 -7 7 -14 11 -27 16 -9 7 -6 6 -9 11 -11 18 -9 12 -130 0 -3 -6 -4 -6 -6 -6 -5 -4 -6 -3 -9 -3 -6 -2 -9 0 -9 0 -6 1 -5 2 -5 3 -3 3 -3 6 -1 6 -1 9 -73 0 3 -12 11 -48 1 -15 3 -9 8 -18 5 -10 6 -7 10 -10 3 -3 2 -5 4 -13 2 -5 3 -4 3 -3 3 -1 3 0 6 2 3 2 4 3 8 15 3 4 4 2 5 2 12 2 15 1 12 -1 12 -2 24 -8 15 -2 15 -1 21 2 9 -1 9 -3 6 -3 6 -4 16 -15 14 -10 15 -8 24 -12z" fill="#c6ff39"/><path d="M549 255l13 -1 12 0 11 1 7 3 6 3 3 4 1 2 0 3 0 3 -2 3 -2 3 -6 4 -24 7 -21 11 -9 4 -9 2 -6 1 -6 -1 -3 -2 -2 -2 -2 -3 -1 -3 0 -6 1 -9 5 -9 5 -6 8 -6 7 -3zM673 255l3 -1 0 147 -9 2 -6 1 -6 -2 -6 -3 -6 -5 -5 -7 -4 -9 -4 -9 -1 -9 -1 -9 1 -9 4 -15 8 -33 3 -9 4 -6 5 -6 13 -12zM472 363l3 -1 3 0 3 1 4 3 4 6 2 6 7 27 14 33 1 9 -1 9 -3 6 -4 7 -6 8 -6 6 -12 9 -24 15 -9 7 -6 5 -9 11 -13 22 -10 12 -124 0 -3 -6 -7 -9 -5 -4 -6 -5 -6 -3 -9 -3 -9 -2 -9 -1 -9 1 -6 1 -6 1 -4 3 -3 3 -4 6 -2 9 -1 9 -64 0 7 -36 7 -24 1 -18 3 -9 6 -15 6 -10 6 -7 9 -8 3 -4 6 -20 3 -5 3 -2 3 0 4 2 3 3 5 6 7 9 2 3 3 3 6 3 6 1 24 0 15 -1 12 -3 24 -7 15 -3 12 -1 24 2 9 0 9 -3 6 -3 6 -4 21 -18 9 -6 9 -6 9 -4 18 -7z" fill="#d2ff2d"/><path d="M549 258l10 -1 12 0 8 1 7 2 6 4 3 3 1 3 -1 3 -2 3 -4 3 -3 2 -18 5 -6 3 -12 7 -9 3 -6 2 -6 0 -6 -1 -3 -2 -3 -4 -1 -6 0 -3 1 -6 3 -6 6 -6 6 -4 6 -2zM674 258l2 -1 0 142 -9 3 -6 0 -6 -2 -6 -3 -4 -4 -5 -6 -4 -9 -4 -9 -2 -9 0 -9 2 -12 3 -12 7 -24 4 -12 3 -6 4 -6 11 -12zM462 372l7 -2 6 0 3 1 3 2 4 5 4 9 7 24 11 27 2 9 -2 9 -2 6 -4 6 -5 6 -6 6 -11 9 -25 17 -9 7 -6 6 -9 12 -13 21 -9 12 -119 0 -4 -6 -8 -10 -6 -5 -7 -6 -8 -3 -9 -3 -9 -1 -12 -1 -9 0 -6 1 -4 1 -5 3 -3 4 -2 5 -2 6 -3 15 -55 0 6 -33 2 -7 6 -20 1 -6 0 -12 1 -6 3 -9 4 -10 5 -8 4 -4 9 -8 3 -3 2 -6 4 -15 3 -6 3 -1 3 0 4 4 5 10 6 8 6 5 4 1 5 2 6 0 39 -4 12 -2 27 -9 12 -2 12 0 27 2 9 -1 9 -3 6 -3 6 -5 20 -17 7 -5 9 -6 12 -5z" fill="#dfff20"/><path d="M552 261l16 0 9 2 4 1 4 3 1 3 -1 3 -3 3 -2 1 -15 6 -15 8 -6 3 -9 1 -5 -1 -4 -2 -2 -4 -1 -3 0 -3 1 -6 2 -3 3 -3 3 -2 6 -3 6 -2zM674 261l2 -1 0 138 -9 2 -6 0 -6 -2 -6 -3 -4 -5 -4 -6 -5 -9 -3 -9 -1 -6 0 -9 1 -9 4 -15 6 -19 5 -14 3 -6 5 -6 12 -15zM454 378l12 -2 6 0 3 1 3 1 3 4 4 8 8 24 9 24 2 9 -1 6 -2 6 -3 6 -5 6 -5 6 -11 9 -26 18 -12 11 -9 12 -15 25 -9 12 -114 0 -7 -9 -8 -9 -6 -6 -9 -6 -9 -3 -12 -3 -15 -2 -15 -1 -6 1 -3 1 -3 2 -3 2 -2 3 -2 6 -6 24 -43 0 2 -21 3 -12 3 -9 3 -6 6 -9 1 -3 0 -3 -4 -11 0 -4 0 -6 2 -9 4 -9 3 -6 5 -6 10 -8 3 -4 3 -17 3 -7 3 -1 4 1 3 6 2 9 2 3 1 3 3 3 6 4 3 1 6 1 6 -1 15 -2 30 -4 12 -3 24 -7 12 -3 15 0 24 2 9 0 9 -3 6 -3 6 -4 21 -18 15 -10 12 -6zM175 504l0 0 0 4 3 0 2 -4 -2 -1z" fill="#ecff13"/><path d="M674 264l2 -1 0 133 -6 2 -6 0 -6 -1 -6 -3 -4 -4 -5 -6 -5 -9 -3 -9 -1 -6 0 -9 2 -12 3 -12 5 -15 6 -15 7 -12zM543 267l7 -1 9 0 8 1 4 3 0 3 -4 3 -15 9 -8 3 -6 1 -3 -1 -3 -3 -2 -3 0 -3 1 -3 2 -3 4 -3zM457 381l9 0 6 1 4 2 2 3 2 3 4 9 6 18 8 24 1 9 -2 6 -4 9 -8 9 -10 9 -27 20 -6 6 -6 6 -9 13 -14 24 -9 12 -110 0 -1 -3 -8 -9 -8 -9 -9 -6 -9 -5 -9 -4 -9 -2 -42 -7 -6 1 -3 3 -2 5 -5 24 -5 12 -24 0 -2 -9 0 -9 2 -9 3 -6 3 -3 3 -2 9 -2 12 -5 3 -3 2 -3 1 -3 1 -6 0 -6 0 -3 -3 -3 -4 -2 -3 -1 -9 0 -3 0 -3 -2 -3 -4 -1 -6 1 -6 1 -3 2 -5 2 -4 4 -4 9 -7 3 -4 2 -6 1 -12 2 -6 1 -3 3 -2 3 3 2 2 3 18 1 2 3 4 3 1 6 2 6 1 6 -1 21 -4 30 -5 12 -3 21 -7 12 -2 15 -1 27 3 6 -1 6 -1 6 -2 7 -4 24 -21 14 -9 9 -4 6 -2z" fill="#f9ff06"/><path d="M675 267l1 -1 0 128 -6 2 -6 0 -6 -1 -6 -3 -4 -5 -5 -6 -3 -6 -3 -9 -1 -6 0 -9 2 -12 3 -12 11 -27 4 -9 4 -6zM544 276l3 0 1 0 -1 1zM439 387l12 -2 12 0 6 2 3 2 3 3 3 4 3 6 11 36 1 9 0 6 -2 6 -2 3 -7 9 -10 9 -24 19 -12 12 -9 13 -14 25 -11 15 -105 0 -2 -3 -16 -18 -7 -6 -7 -4 -6 -3 -9 -3 -30 -7 -10 -4 -8 -4 -3 -5 -1 -3 -2 -12 -3 -5 -5 -7 -1 -3 -1 -3 1 -6 0 -3 -5 -6 1 -3 3 -6 2 -6 0 -15 1 -6 1 -2 3 -2 3 3 1 4 1 15 1 7 3 3 3 1 12 0 9 -1 21 -6 24 -4 9 -2 27 -9 12 -3 9 -1 9 0 30 3 6 0 6 -1 6 -3 6 -4 21 -18 9 -7 9 -5zM172 540l2 0 1 2 0 4 -3 6 -3 0 -1 -3 0 -3 1 -3z" fill="#fff900"/><path d="M675 270l1 -1 0 123 -6 2 -6 0 -6 -1 -4 -3 -5 -4 -4 -5 -3 -6 -3 -9 -1 -6 0 -9 1 -9 3 -12 5 -12 6 -15 5 -9 3 -6zM438 390l4 -1 6 -1 12 1 6 2 3 2 3 3 3 4 2 5 9 33 2 9 -1 6 -3 8 -6 7 -9 9 -24 21 -6 6 -6 7 -9 14 -13 24 -11 15 -101 0 -2 -3 -16 -18 -7 -6 -6 -4 -6 -3 -9 -4 -27 -7 -9 -4 -8 -5 -3 -3 -2 -3 -2 -6 -3 -12 -2 -6 -1 -3 1 -3 1 -3 5 -6 2 -3 5 -3 34 -11 36 -7 9 -3 21 -7 9 -2 9 -2 9 0 30 4 6 0 7 -2 8 -3 6 -4 19 -17 8 -6 9 -6zM192 423l1 0 1 0 1 6 -1 6 -1 4 -2 -4 -1 -3 0 -4z" fill="#ffec00"/><path d="M675 273l1 -1 0 118 -6 2 -6 0 -6 -2 -5 -3 -4 -4 -3 -5 -3 -6 -3 -7 -1 -8 0 -6 2 -9 3 -12 10 -24 8 -15zM436 393l9 -1 9 0 6 1 3 2 3 2 3 3 4 5 3 9 6 30 0 6 -1 3 -2 6 -7 9 -9 9 -21 20 -9 10 -9 14 -15 28 -11 15 -96 0 -2 -3 -17 -18 -12 -10 -6 -3 -9 -5 -27 -8 -9 -4 -5 -3 -3 -3 -5 -6 -1 -3 -1 -6 -1 -9 0 -6 3 -6 4 -6 4 -3 5 -3 24 -9 9 -3 30 -6 27 -9 9 -2 9 -1 9 0 33 4 6 -1 6 -1 6 -2 8 -6 17 -15 8 -7 8 -5z" fill="#ffdf00"/><path d="M676 276l0 0 0 113 -6 1 -6 0 -6 -2 -3 -2 -5 -5 -4 -5 -3 -7 -1 -6 -1 -6 0 -6 4 -15 7 -19 11 -23 6 -9zM435 396l4 -1 6 0 9 1 8 3 3 3 3 3 2 6 3 12 3 21 0 6 -1 3 -3 6 -4 6 -29 30 -9 12 -7 12 -14 27 -3 6 -9 12 -93 0 -2 -3 -17 -18 -6 -6 -8 -5 -12 -7 -27 -9 -9 -4 -6 -4 -3 -3 -4 -7 -1 -6 -1 -9 2 -6 2 -6 3 -3 5 -5 15 -8 13 -5 35 -7 27 -10 12 -2 9 -1 9 0 30 4 9 0 6 -1 6 -3 6 -4 19 -18 8 -6 6 -3z" fill="#ffd200"/><path d="M676 279l0 0 0 108 -6 1 -3 0 -4 -1 -5 -1 -3 -2 -5 -6 -3 -6 -3 -6 -1 -6 0 -6 0 -6 3 -9 6 -17 14 -28 7 -12zM435 399l7 -1 3 0 6 1 7 3 4 3 2 3 3 6 2 9 1 18 0 9 -3 6 -6 9 -25 29 -8 10 -7 13 -14 29 -3 6 -9 12 -89 0 -2 -3 -17 -18 -7 -6 -7 -6 -8 -5 -6 -3 -24 -8 -9 -5 -4 -3 -4 -3 -4 -6 -1 -6 0 -9 1 -6 3 -6 3 -3 7 -6 14 -7 12 -4 30 -7 9 -2 21 -8 12 -3 9 0 6 0 24 4 9 1 6 0 6 -1 6 -2 6 -4 6 -4 18 -18 8 -5z" fill="#ffc600"/><path d="M676 282l0 103 -6 1 -3 0 -6 -1 -3 -2 -3 -2 -4 -6 -4 -6 -2 -6 0 -6 0 -6 2 -12 6 -15 13 -27 7 -11zM436 402l6 -1 7 1 5 3 4 3 2 4 3 5 2 9 -1 15 -1 9 -2 6 -6 9 -22 27 -6 9 -6 11 -11 25 -4 9 -4 6 -9 12 -85 0 -4 -5 -15 -16 -9 -8 -6 -5 -12 -7 -31 -13 -5 -3 -4 -3 -4 -6 -2 -6 0 -6 1 -6 2 -6 4 -5 4 -4 8 -5 7 -4 14 -4 30 -7 27 -10 12 -2 9 -1 6 0 33 6 9 0 6 -1 6 -2 6 -4 6 -5 12 -12 6 -5 6 -4z" fill="#ffb900"/><path d="M674 288l2 -2 0 97 -6 1 -3 0 -6 -2 -3 -2 -3 -2 -3 -4 -3 -5 -2 -6 -1 -9 2 -12 5 -12 14 -30zM439 405l3 0 3 1 5 2 4 4 4 5 1 6 1 6 -1 9 -2 12 -3 6 -3 6 -18 24 -8 12 -7 15 -13 30 -5 9 -9 12 -81 0 -3 -4 -13 -14 -9 -9 -8 -6 -8 -6 -7 -3 -24 -10 -8 -5 -6 -6 -4 -6 -1 -3 0 -6 1 -6 3 -6 3 -4 5 -5 7 -4 9 -5 12 -3 27 -6 27 -11 12 -2 9 -1 9 1 24 5 9 2 9 -1 6 -1 6 -2 7 -5 5 -4 12 -13 6 -5 6 -3z" fill="#ffac00"/><path d="M675 291l1 -1 0 91 -6 1 -3 -1 -6 -1 -3 -2 -3 -3 -3 -4 -2 -5 -1 -6 -1 -9 2 -9 5 -13 16 -32zM433 411l6 -1 3 0 3 1 4 3 4 6 2 6 0 6 -4 15 -3 9 -3 6 -15 22 -7 11 -5 12 -10 27 -6 12 -3 6 -9 12 -78 0 -2 -3 -8 -9 -15 -15 -10 -8 -12 -8 -25 -11 -5 -3 -5 -3 -3 -3 -3 -6 -1 -3 0 -6 1 -6 3 -6 5 -6 3 -3 6 -4 9 -4 9 -3 27 -6 9 -3 18 -7 9 -3 6 0 6 -1 9 1 24 6 9 2 9 0 9 -1 6 -3 7 -4 5 -5 13 -13 3 -3z" fill="#ff9f00"/><path d="M676 294l0 0 0 85 -6 0 -5 -1 -4 -1 -3 -2 -3 -4 -3 -5 -1 -3 -1 -9 2 -9 4 -12 17 -35zM434 417l2 0 3 -1 3 1 3 3 3 3 0 3 0 6 -4 18 -2 6 -3 6 -12 19 -6 11 -6 16 -8 23 -5 12 -5 9 -9 12 -74 0 -2 -3 -8 -9 -15 -15 -9 -7 -6 -5 -9 -5 -27 -13 -7 -6 -4 -6 -1 -3 0 -6 1 -6 3 -6 5 -6 4 -3 5 -3 9 -4 9 -3 24 -5 9 -3 21 -9 12 -2 6 0 9 0 9 2 18 6 9 1 9 1 9 -2 6 -2 7 -4 5 -4 12 -12z" fill="#ff9300"/><path d="M675 300l1 -1 0 77 -6 1 -6 -2 -5 -3 -2 -3 -4 -6 0 -3 -1 -6 2 -9 4 -12zM429 432l4 -2 3 0 1 2 0 6 -5 21 -14 32 -12 37 -4 12 -7 12 -9 12 -70 0 -2 -3 -7 -8 -24 -23 -6 -5 -9 -5 -21 -10 -9 -6 -4 -3 -2 -3 -3 -6 0 -6 1 -6 1 -3 4 -6 3 -3 6 -4 6 -3 9 -3 24 -6 9 -3 24 -9 12 -3 6 0 6 0 9 2 27 8 9 1 9 1 9 -2 9 -3 6 -3 4 -3z" fill="#ff8600"/><path d="M676 306l0 -1 0 69 -6 0 -6 -1 -3 -2 -3 -3 -2 -5 -1 -3 -1 -3 0 -6 3 -9 3 -9zM327 438l7 0 9 1 9 2 21 8 9 2 9 1 18 0 6 1 4 3 2 3 0 6 -1 6 -17 60 -3 9 -5 9 -11 15 -66 0 -2 -3 -7 -9 -26 -23 -6 -5 -9 -6 -21 -10 -5 -4 -4 -3 -3 -3 -2 -3 -1 -3 0 -6 1 -6 1 -3 4 -6 7 -6 6 -3 8 -3 30 -7 9 -3 17 -8z" fill="#ff7900"/><path d="M675 315l1 -2 0 58 -3 1 -6 -1 -3 -1 -3 -3 -2 -4 -2 -3 0 -6 1 -9 3 -8 6 -11zM319 441l6 -1 9 -1 6 1 6 1 30 11 27 6 3 1 3 3 3 3 1 6 0 6 -1 6 -4 24 -5 21 -3 9 -5 9 -3 6 -9 12 -63 0 -2 -3 -2 -3 -5 -6 -26 -24 -14 -10 -26 -14 -4 -3 -3 -3 -2 -3 -1 -6 0 -3 1 -6 2 -4 3 -4 6 -5 6 -4 6 -2 24 -6 9 -3z" fill="#ff6c00"/><path d="M675 321l1 0 0 48 -3 0 -6 -1 -3 -2 -2 -3 -2 -3 -1 -6 1 -9 4 -9 6 -9 3 -4zM324 441l7 0 6 0 6 1 6 1 24 10 20 6 4 2 3 1 3 3 2 3 1 3 2 6 0 9 -2 18 -4 18 -3 12 -4 9 -5 9 -9 12 -59 0 -3 -4 -6 -8 -27 -25 -9 -7 -6 -3 -22 -13 -5 -3 -5 -6 -2 -6 0 -3 2 -6 3 -6 3 -3 5 -4 6 -3 6 -2 21 -5 9 -3 22 -10z" fill="#ff6000"/><path d="M672 330l4 -3 0 39 -3 0 -3 -1 -3 -2 -3 -3 -2 -3 0 -3 1 -6 1 -5 3 -6zM318 444l7 -1 9 -1 6 0 8 2 43 18 5 3 3 3 2 3 1 3 2 6 1 12 -2 15 -2 15 -4 12 -4 9 -5 9 -9 12 -55 0 -3 -6 -5 -6 -27 -24 -15 -11 -24 -14 -5 -5 -2 -3 -3 -6 0 -3 2 -6 3 -6 3 -3 4 -3 6 -3 7 -2 18 -5 9 -2z" fill="#ff5300"/><path d="M673 336l3 -2 0 28 -3 0 -3 -2 -3 -3 -1 -3 0 -3 1 -6 3 -5zM323 444l8 -1 6 0 6 1 9 4 32 14 5 3 4 3 2 3 3 6 3 9 1 12 -1 12 -3 15 -4 12 -4 9 -5 8 -8 10 -51 0 -3 -6 -7 -8 -24 -22 -15 -11 -25 -16 -5 -4 -3 -5 -1 -6 2 -6 3 -6 3 -3 5 -3 9 -3 27 -7 9 -4 13 -7z" fill="#ff4600"/><path d="M674 345l2 -2 0 13 -3 -1 -1 -4 0 -3zM318 447l7 -2 9 0 6 0 9 3 34 17 7 6 4 6 3 9 2 12 0 12 -3 15 -4 12 -4 9 -6 9 -7 9 -47 0 -1 -3 -4 -6 -5 -6 -6 -6 -29 -24 -9 -6 -19 -12 -5 -4 -3 -5 -1 -6 2 -6 4 -6 4 -3 9 -4 21 -6 9 -3z" fill="#ff3900"/><path d="M323 447l8 -1 9 1 9 3 8 3 19 11 6 4 6 6 5 9 3 9 1 12 -1 12 -2 12 -3 9 -5 9 -4 7 -10 11 -41 0 -2 -3 -4 -6 -5 -6 -6 -6 -31 -26 -27 -18 -4 -4 -2 -3 -1 -3 0 -3 2 -6 2 -3 2 -3 4 -3 9 -3 24 -7 9 -4 14 -7z" fill="#ff2d00"/><path d="M319 450l9 -2 6 0 6 0 9 4 15 7 14 9 6 6 5 9 4 9 1 12 0 12 -2 12 -3 9 -5 9 -5 8 -9 10 -37 0 -1 -3 -6 -9 -9 -9 -31 -26 -27 -19 -3 -3 -2 -3 -1 -3 -1 -3 1 -3 1 -3 2 -3 3 -3 5 -3 4 -1 18 -5 9 -3z" fill="#ff2000"/><path d="M324 450l7 -1 9 1 9 3 11 6 14 9 5 6 5 6 5 9 2 9 1 12 -1 12 -2 9 -3 9 -6 9 -4 6 -9 9 -30 0 -2 -3 -6 -9 -9 -9 -34 -28 -24 -17 -3 -3 -2 -3 -1 -3 0 -3 0 -2 2 -4 2 -3 4 -3 6 -3 16 -4 9 -3 21 -11z" fill="#ff1300"/><path d="M321 453l7 -2 9 0 9 3 10 5 14 9 6 6 7 9 4 9 2 9 1 12 -1 12 -3 9 -4 9 -6 9 -6 6 -8 6 -21 0 -9 -12 -9 -9 -37 -31 -19 -14 -5 -4 -2 -5 -1 -3 1 -3 2 -3 3 -3 3 -2 27 -9z" fill="#ff0600"/><path d="M327 453l7 0 4 0 5 2 9 4 14 9 6 6 5 6 5 9 4 9 2 9 -1 12 -2 12 -3 8 -6 10 -6 6 -6 5 -9 4 -6 0 -3 -1 -6 -5 -10 -12 -7 -6 -34 -28 -18 -14 -6 -5 -1 -4 -1 -3 1 -3 2 -3 4 -3 7 -3 15 -5 26 -13z" fill="#f90000"/><path d="M323 456l8 -1 3 0 6 1 8 3 10 6 8 6 8 9 5 9 4 9 2 9 1 9 -2 9 -2 9 -5 9 -4 6 -6 6 -6 3 -3 1 -6 1 -3 -1 -6 -3 -16 -16 -22 -18 -16 -13 -13 -11 -6 -6 -2 -3 0 -3 1 -3 3 -3 2 -1 21 -9 21 -11z" fill="#ec0000"/><path d="M321 459l4 -1 6 -1 6 1 6 1 9 5 10 7 6 6 6 9 5 9 3 9 1 9 0 9 -2 9 -4 9 -4 5 -6 6 -6 4 -6 1 -3 0 -3 -1 -4 -3 -17 -15 -27 -21 -23 -21 -3 -3 -1 -3 0 -3 1 -3 4 -3 16 -7 18 -10z" fill="#df0000"/><path d="M319 462l9 -2 6 0 6 1 9 4 9 6 6 6 7 9 5 9 3 6 2 9 0 6 -1 9 -3 9 -3 6 -4 5 -6 4 -6 2 -3 1 -3 -1 -6 -3 -13 -11 -20 -14 -8 -7 -19 -18 -5 -6 -1 -3 0 -3 3 -3 4 -3 20 -12z" fill="#d20000"/><path d="M329 462l5 0 6 2 6 2 8 5 6 6 7 9 6 9 3 6 2 6 0 9 0 6 -2 7 -3 7 -3 4 -3 3 -6 4 -6 0 -6 -2 -33 -23 -10 -9 -10 -9 -5 -6 -4 -6 -1 -3 1 -3 2 -3 8 -6 9 -6 7 -4 9 -3z" fill="#c60000"/><path d="M327 465l4 0 6 1 6 2 6 4 6 5 7 6 5 7 5 8 2 6 2 6 0 6 -1 6 -2 7 -3 5 -3 4 -3 2 -3 2 -3 0 -3 0 -3 -1 -6 -3 -24 -16 -12 -9 -9 -9 -7 -9 -1 -3 -1 -3 1 -3 5 -6 7 -6 5 -3 9 -4z" fill="#b90000"/><path d="M325 468l6 0 6 1 6 2 3 2 6 5 6 6 9 11 5 9 1 6 0 6 -1 6 -2 5 -3 5 -3 3 -3 1 -3 1 -3 0 -6 -2 -6 -3 -15 -10 -12 -9 -10 -9 -5 -6 -2 -3 -1 -3 -1 -3 1 -3 1 -3 3 -3 5 -4 6 -4 6 -2z" fill="#ac0000"/><path d="M324 471l4 0 6 1 6 2 3 1 6 5 6 6 6 6 5 6 1 3 2 6 1 6 0 3 -3 8 -3 4 -3 2 -3 1 -6 0 -6 -2 -9 -5 -11 -8 -11 -9 -6 -6 -5 -6 -1 -3 -1 -3 0 -3 2 -3 2 -3 3 -3 5 -3 5 -2z" fill="#9f0000"/><path d="M324 474l7 1 6 1 3 2 12 10 9 9 4 7 2 6 -1 6 -1 3 -4 5 -3 2 -6 0 -6 -2 -4 -2 -5 -3 -8 -6 -14 -12 -6 -6 -2 -3 0 -3 0 -3 1 -3 2 -3 4 -3 5 -2z" fill="#930000"/><path d="M316 480l6 -2 3 0 6 1 6 3 15 11 6 5 4 6 1 6 0 3 -2 4 -3 3 -3 1 -3 0 -3 0 -6 -2 -7 -6 -11 -10 -9 -7 -3 -4 -1 -3 0 -3 1 -3z" fill="#860000"/></g></g><path d="M124.2 54.5 354 54.5 354 58.7 350.4 58.7 350.4 62.9 343.4 62.9 343.4 67.2 336.3 67.2 336.3 71.4 332.8 71.4 332.8 75.7 325.7 75.7 325.7 79.9 318.6 79.9 318.6 84.1 311.6 84.1 311.6 88.4 304.5 88.4 304.5 92.6 297.4 92.6 297.4 96.9 293.9 96.9 293.9 101.1 286.8 101.1 286.8 105.4 286.8 105.4 286.8 109.6 311.6 109.6 311.6 113.8 311.6 113.8 311.6 118.1 308 118.1 308 122.3 304.5 122.3 304.5 126.6 304.5 126.6 304.5 130.8 304.5 130.8 304.5 135.1 304.5 135.1 304.5 139.3 304.5 139.3 304.5 143.5 304.5 143.5 304.5 147.8 308 147.8 308 152 308 152 308 156.3 300.9 156.3 300.9 160.5 297.4 160.5 297.4 164.8 293.9 164.8 293.9 169 293.9 169 293.9 173.2 290.3 173.2 290.3 177.5 290.3 177.5 290.3 181.7 290.3 181.7 290.3 186 286.8 186 286.8 190.2 286.8 190.2 286.8 194.5 286.8 194.5 286.8 198.7 286.8 198.7 286.8 202.9 286.8 202.9 286.8 207.2 286.8 207.2 286.8 211.4 286.8 211.4 286.8 215.7 283.3 215.7 283.3 219.9 272.7 219.9 272.7 224.1 240.9 224.1 240.9 228.4 216.1 228.4 216.1 232.6 209 232.6 209 236.9 202 236.9 202 241.1 198.4 241.1 198.4 245.4 194.9 245.4 194.9 249.6 191.4 249.6 191.4 253.8 187.8 253.8 187.8 258.1 184.3 258.1 184.3 262.3 180.8 262.3 180.8 266.6 180.8 266.6 180.8 270.8 177.2 270.8 177.2 275.1 173.7 275.1 173.7 279.3 170.2 279.3 170.2 283.5 166.6 283.5 166.6 287.8 163.1 287.8 163.1 292 159.6 292 159.6 296.3 156 296.3 156 300.5 156 300.5 156 304.8 148.9 304.8 148.9 309 145.4 309 145.4 313.2 145.4 313.2 145.4 317.5 145.4 317.5 145.4 321.7 148.9 321.7 148.9 326 152.5 326 152.5 330.2 152.5 330.2 152.5 334.5 145.4 334.5 145.4 338.7 148.9 338.7 148.9 342.9 148.9 342.9 148.9 347.2 148.9 347.2 148.9 351.4 148.9 351.4 148.9 355.7 152.5 355.7 152.5 359.9 152.5 359.9 152.5 364.2 152.5 364.2 152.5 368.4 148.9 368.4 148.9 372.6 145.4 372.6 145.4 376.9 145.4 376.9 145.4 381.1 141.9 381.1 141.9 385.4 141.9 385.4 141.9 389.6 141.9 389.6 141.9 393.8 138.3 393.8 138.3 398.1 138.3 398.1 138.3 402.3 138.3 402.3 138.3 406.6 138.3 406.6 138.3 410.8 138.3 410.8 138.3 415.1 138.3 415.1 138.3 419.3 138.3 419.3 138.3 423.5 138.3 423.5 138.3 427.8 138.3 427.8 138.3 432 141.9 432 141.9 436.3 141.9 436.3 141.9 440.5 141.9 440.5 141.9 444.8 141.9 444.8 141.9 449 138.3 449 138.3 453.2 134.8 453.2 134.8 457.5 131.3 457.5 131.3 461.7 127.7 461.7 127.7 466 124.2 466zM293.9 105.4H311.6V109.6H293.9z" fill="#fff"/><path d="M194.9 563.1V54.4M265.6 563.1V54.4M336.3 563.1V54.4M407 563.1V54.4M477.7 563.1V54.4M548.4 563.1V54.4M619.1 563.1V54.4M130.2 105.3H675.7M130.2 190.1H675.7M130.2 275H675.7M130.2 359.8H675.7M130.2 444.7H675.7M130.2 529.5H675.7" stroke="#b0b0b0" stroke-width="1.4" stroke-dasharray="1.5 5.04" fill="none"/><path d="M124.5 145 133.8 148.2 142.5 148.2 149.5 151.8 160 151.8 166.2 150 162 145 170.8 135.5 181.2 142 188.8 141.2 193.8 135 206.2 129.5 213.8 127.5 225 120 238.8 115.8 245 117 252.5 115.5 260 118.8 270 122.5 280 127.5 286.2 133.8 290 142.5 290 153.8M296.2 152.5 290 153.8 283.8 155 286.2 162.5 292.5 165.5 288.8 175 287.2 191.5 283.5 208 280.8 216.2 273.8 220.8 264 221.5 250.5 224.2 241.5 223.8 232.5 223.8 217.5 226.8 206.2 232 199.5 237.2 194.2 240.2 192 233.5 204 228.8 213.8 226.5 215.7 219.8 208.5 217.5 202.2 215.2 201 207 204.8 199.5 210.8 196.8 206.2 192.8 201.8 191.2 190.5 189.3 186 193.5 179.2 197.2 177 204 179.2 211.5 184.5 216.8 186.8 224.2 184.5 231.8 171 236.2 165.8 250.5 171.8 249.8 177.8 244.5 181.5 239.2 189.8 241.5 193.5 246 187.5 250.5 189 243.8 181.5 245.2 171.8 253.5 163.5 258 160.5 266.2 159.3 280.8 184.5 256.8M184.5 256.8 169.5 280 159 286.8 153.8 295 151.5 301.8 144 303.7 142.5 313 147.8 328 142.5 334.5 145.5 345 148.2 360.8 142.5 376.5 136.5 390 135 402 136.4 403.5 134.2 411.2 135 424 139.2 436.8 135 446.5 129.8 454 124.5 459.5M124.5 403.5 135 402M280 108.8 284.5 114.5 290 110 295 115.5 300.5 112.5 302 125 298.8 142.5 296.2 152.5M280 108.8 285 102.5 295.5 92.5 310 83.5 320 78 335 66.5 348.5 55M299 86.8 316.2 77 310.2 71.8 312.5 64.2 320 61.2 325.2 65 325.2 55M326 56 329.8 59.3 330.5 55M299 86.8 297.5 77.8 293 72.5 291.2 65 292.2 55M284.8 55 282.5 69.5 280 77.8 279.5 87.5 281 97.2 290.8 97.2 295.5 92.5M316.2 77 326 72.3 331 69.3" stroke="#000" stroke-width="1.15" fill="none" stroke-linejoin="round"/><path d="M143 564.1C143.4 560.9 144.5 550.9 145.4 545.1C146.2 539.4 146.8 534.2 148.1 529.6C149.5 525 151.3 521.3 153.3 517.5C155.3 513.8 158.4 510 160.2 507.2C162 504.3 164.3 503.1 164.3 500.3C164.3 497.4 161.3 493.7 160.2 489.9C159.1 486.2 157.8 481.9 157.8 477.9C157.8 473.8 158.7 469.8 160.2 465.8C161.8 461.8 164.5 457.3 167.1 453.7C169.7 450.2 173.1 446.6 175.7 444.4C178.3 442.2 180.9 441.4 182.6 440.6C184.3 439.9 185.4 441.2 186.1 439.9C186.8 438.7 186.8 435.9 186.8 433C186.8 430.2 185.8 425.6 186.1 422.7C186.3 419.8 187.2 417.5 188.1 415.8C189.1 414.1 190.7 413 191.9 412.7C193.2 412.4 194.5 413 195.7 414.1C196.9 415.2 198 416.7 199.2 419.2C200.3 421.8 201.1 426.4 202.6 429.6C204.2 432.7 206.8 436.1 208.5 438.2C210.2 440.3 211.1 441.4 213 442.3C214.9 443.3 217.3 443.5 219.9 443.7C222.4 443.9 226 443.7 228.4 443.4C230.8 443.1 232.1 442.4 234 441.9C235.9 441.4 237.8 440.9 240 440.6C242.2 440.3 245 440.2 247.5 440.2C250 440.1 252 440.5 255 440.3C258 440.1 260.8 439.6 265.4 438.9C270 438.1 276.9 437.3 282.6 435.8C288.4 434.2 294.1 431.4 299.9 429.6C305.6 427.8 311.1 426.1 317.1 425.1C323.1 424.1 330 423.7 336.1 423.7C342.1 423.8 347.8 425 353.2 425.4C358.7 425.9 364.4 426.4 368.8 426.1C373.1 425.9 375.4 425.4 379.1 423.7C382.8 422 386.6 419.4 391.2 415.8C395.8 412.2 401.5 406.2 406.7 402C411.9 397.8 417.3 393.7 422.2 390.6C427.1 387.6 433 385.4 436 383.7C439 382.1 437.7 381.6 440 380.8C442.3 379.9 447.2 379.1 449.8 378.9C452.2 378.7 453.4 379.3 455 379.6C456.6 379.9 458 381 459.5 380.9C461 380.8 462.8 379.8 464 378.9C465.2 378 465.8 376.6 466.6 375.5C467.4 374.4 467.6 373 469 372.5C470.4 372 473.6 372 475 372.5C476.4 373 476.2 373.4 477.5 375.5C478.8 377.6 481 381.2 482.8 385C484.5 388.8 486 393.7 487.7 398.6C489.4 403.4 491.2 409.2 492.9 414.1C494.6 419 496.3 423.6 498.1 427.9C499.8 432.2 502.2 436.2 503.2 439.9C504.3 443.7 504.6 447.1 504.3 450.3C504 453.4 503 455.7 501.5 458.9C500 462.1 497.6 466.1 495.3 469.2C493 472.4 490.7 475.1 487.7 477.9C484.7 480.6 481.4 482.9 477.4 485.8C473.4 488.7 468.2 491.8 463.6 495.1C459 498.4 454.1 501.7 449.8 505.4C445.5 509.2 441.5 513.2 437.7 517.5C434 521.8 430.5 526.4 427.4 531.3C424.2 536.2 421.3 542.5 418.8 546.8C416.2 551.1 414 554.3 411.9 557.2C409.7 560 407 562.9 406 564.1M187.1 564.1C187.5 561.5 188.5 553.1 189.5 548.6C190.5 544 191.5 539.8 193 536.5C194.4 533.1 195.8 530.3 198.1 528.6C200.4 526.8 202.4 526.5 206.8 526.1C211.1 525.7 218.3 525.9 224 526.1C229.7 526.4 235.5 526.7 241.2 527.9C247 529 253.3 530.7 258.5 533C263.7 535.3 268.3 538.5 272.3 541.7C276.3 544.8 279.3 548.3 282.6 552C285.9 555.7 290.4 562.1 291.9 564.1M525.1 289.4C524.5 287.4 523.2 285.3 523.6 282.2C524.1 279.1 526 273.5 528 270.7C529.9 267.9 531.6 266.9 535.2 265.5C538.8 264.1 544.3 263 549.6 262C554.9 261.1 562.1 260 566.9 259.7C571.7 259.5 575.4 260.1 578.4 260.6C581.4 261.1 583.8 261.7 584.7 262.6C585.7 263.6 585.9 264.8 584.2 266.4C582.4 268 577.2 270 574.1 272.1C570.9 274.3 568.1 276.9 565.4 279.3C562.8 281.7 560.9 284.5 558.2 286.5C555.6 288.6 552.5 290 549.6 291.4C546.7 292.9 543.6 294.2 540.9 295.2C538.3 296.1 536 297.3 533.7 297.2C531.4 297.1 528.5 295.6 527.1 294.3C525.7 293 525.7 291.4 525.1 289.4M676 261.5C674.1 263 668.8 266.5 664.8 270.7C660.8 274.9 655.2 280.7 651.9 286.5C648.5 292.3 647.1 298.8 644.7 305.3C642.3 311.8 639.4 318.7 637.5 325.4C635.6 332.1 634.1 340.7 633.1 345.6C632.1 350.5 631.6 351.9 631.5 355C631.4 358.1 631.9 360.8 632.6 364C633.3 367.2 634.2 370.6 635.7 374.4C637.2 378.1 639.4 383.1 641.9 386.5C644.4 389.9 647.6 392.9 650.5 395.1C653.4 397.3 656.2 398.9 659.1 399.6C662 400.4 664.9 400 667.7 399.6C670.5 399.2 674.6 397.9 676 397.5" stroke="#000" stroke-width="1.3" fill="none" stroke-linejoin="round" stroke-linecap="round" clip-path="url(#pc)"/><rect x="212.1" y="439.1" width="16" height="10.7" fill="#fff"/><rect x="462.9" y="364.1" width="16" height="10.7" fill="#fff"/><rect x="526.2" y="294.1" width="16" height="10.7" fill="#fff"/><path d="M213.4 444.1 213.7 442.3 214.3 441.2 215.2 440.8 215.9 440.8 216.8 441.2 217.4 442.3 217.7 444.1 217.7 445.2 217.4 447 216.8 448 215.9 448.4 215.2 448.4 214.3 448 213.7 447 213.4 445.2 213.4 444.1M219.8 448 220.1 447.7 220.4 448 220.1 448.4 219.8 448M222.6 447 222.9 447.7 223.2 448 224.1 448.4 225 448.4 225.9 448 226.5 447.3 226.8 446.2 226.8 445.5 226.5 444.4 225.9 443.7 225 443.4 224.1 443.4 223.2 443.7 222.9 444.1 223.2 440.8 226.2 440.8M464.2 369.1 464.5 367.3 465.1 366.2 466 365.8 466.7 365.8 467.6 366.2 468.2 367.3 468.5 369.1 468.5 370.2 468.2 372 467.6 373 466.7 373.4 466 373.4 465.1 373 464.5 372 464.2 370.2 464.2 369.1M470.6 373 470.9 372.7 471.2 373 470.9 373.4 470.6 373M473.4 372 473.7 372.7 474 373 474.9 373.4 475.8 373.4 476.7 373 477.3 372.3 477.6 371.2 477.6 370.5 477.3 369.4 476.7 368.7 475.8 368.4 474.9 368.4 474 368.7 473.7 369.1 474 365.8 477 365.8M527.5 299.1 527.8 297.3 528.4 296.2 529.3 295.8 530 295.8 530.9 296.2 531.5 297.3 531.8 299.1 531.8 300.2 531.5 302 530.9 303 530 303.4 529.3 303.4 528.4 303 527.8 302 527.5 300.2 527.5 299.1M533.9 303 534.2 302.7 534.5 303 534.2 303.4 533.9 303M536.7 302 537 302.7 537.3 303 538.2 303.4 539.1 303.4 540 303 540.6 302.3 540.9 301.2 540.9 300.5 540.6 299.4 540 298.7 539.1 298.4 538.2 298.4 537.3 298.7 537 299.1 537.3 295.8 540.3 295.8" stroke="#000" stroke-width="1.3" stroke-linecap="round" stroke-linejoin="round" fill="none"/><rect x="124.2" y="54.4" width="551.5" height="508.9" fill="none" stroke="#000" stroke-width="2.1"/><path d="M124.2 563.2V567.5M194.9 563.2V567.5M265.6 563.2V567.5M336.3 563.2V567.5M407 563.2V567.5M477.7 563.2V567.5M548.4 563.2V567.5M619.1 563.2V567.5M124.2 105.3H120M124.2 190.1H120M124.2 275H120M124.2 359.8H120M124.2 444.7H120M124.2 529.5H120" stroke="#000" stroke-width="1.6" fill="none"/><path d="M113.5 571.8 113.5 571.4 113.9 570.6 114.2 570.2 114.9 569.8 116.3 569.8 117 570.2 117.3 570.6 117.6 571.4 117.6 572.2 117.3 573.1 116.6 574.3 113.2 578.4 118 578.4M120.1 575.5 120.1 576.8 120.4 577.6 120.8 578 121.8 578.4 123.2 578.4 124.2 578 124.5 577.6 124.9 576.8 124.9 575.5 124.5 574.7 123.9 573.9 122.8 573.5 121.4 573.1 120.8 572.7 120.4 571.8 120.4 571 120.8 570.2 121.8 569.8 123.2 569.8 124.2 570.2 124.5 571 124.5 571.8 124.2 572.7 123.5 573.1 122.1 573.5 121.1 573.9 120.4 574.7 120.1 575.5M127.3 578 127.7 577.6 128 578 127.7 578.4 127.3 578M130.4 576.8 130.8 577.6 131.1 578 132.1 578.4 133.2 578.4 134.2 578 134.9 577.2 135.2 575.9 135.2 575.1 134.9 573.9 134.2 573.1 133.2 572.7 132.1 572.7 131.1 573.1 130.8 573.5 131.1 569.8 134.6 569.8M189.4 571.8 189.4 571.4 189.7 570.6 190.1 570.2 190.8 569.8 192.1 569.8 192.8 570.2 193.2 570.6 193.5 571.4 193.5 572.2 193.2 573.1 192.5 574.3 189 578.4 193.9 578.4M196.3 577.2 196.6 578 197.7 578.4 198.3 578.4 199.4 578 200.1 576.8 200.4 574.7 200.4 572.7 200.1 571 199.4 570.2 198.3 569.8 198 569.8 197 570.2 196.3 571 195.9 572.2 195.9 572.7 196.3 573.9 197 574.7 198 575.1 198.3 575.1 199.4 574.7 200.1 573.9 200.4 572.7M254.9 571.8 254.9 571.4 255.3 570.6 255.6 570.2 256.3 569.8 257.7 569.8 258.4 570.2 258.7 570.6 259 571.4 259 572.2 258.7 573.1 258 574.3 254.6 578.4 259.4 578.4M261.8 577.2 262.2 578 263.2 578.4 263.9 578.4 264.9 578 265.6 576.8 265.9 574.7 265.9 572.7 265.6 571 264.9 570.2 263.9 569.8 263.5 569.8 262.5 570.2 261.8 571 261.5 572.2 261.5 572.7 261.8 573.9 262.5 574.7 263.5 575.1 263.9 575.1 264.9 574.7 265.6 573.9 265.9 572.7M268.7 578 269.1 577.6 269.4 578 269.1 578.4 268.7 578M271.8 576.8 272.2 577.6 272.5 578 273.5 578.4 274.6 578.4 275.6 578 276.3 577.2 276.6 575.9 276.6 575.1 276.3 573.9 275.6 573.1 274.6 572.7 273.5 572.7 272.5 573.1 272.2 573.5 272.5 569.8 276 569.8M330.4 576.8 330.8 577.6 331.1 578 332.2 578.4 333.2 578.4 334.2 578 334.9 577.2 335.3 575.9 335.3 575.1 334.9 573.9 334.6 573.5 333.9 573.1 332.9 573.1 334.9 569.8 331.1 569.8M337.3 573.5 337.7 571.4 338.4 570.2 339.4 569.8 340.1 569.8 341.1 570.2 341.8 571.4 342.2 573.5 342.2 574.7 341.8 576.8 341.1 578 340.1 578.4 339.4 578.4 338.4 578 337.7 576.8 337.3 574.7 337.3 573.5M396 576.8 396.3 577.6 396.6 578 397.7 578.4 398.7 578.4 399.8 578 400.4 577.2 400.8 575.9 400.8 575.1 400.4 573.9 400.1 573.5 399.4 573.1 398.4 573.1 400.4 569.8 396.6 569.8M402.9 573.5 403.2 571.4 403.9 570.2 404.9 569.8 405.6 569.8 406.7 570.2 407.3 571.4 407.7 573.5 407.7 574.7 407.3 576.8 406.7 578 405.6 578.4 404.9 578.4 403.9 578 403.2 576.8 402.9 574.7 402.9 573.5M410.1 578 410.4 577.6 410.8 578 410.4 578.4 410.1 578M413.2 576.8 413.6 577.6 413.9 578 414.9 578.4 416 578.4 417 578 417.7 577.2 418 575.9 418 575.1 417.7 573.9 417 573.1 416 572.7 414.9 572.7 413.9 573.1 413.6 573.5 413.9 569.8 417.4 569.8M471.8 576.8 472.2 577.6 472.5 578 473.6 578.4 474.6 578.4 475.6 578 476.3 577.2 476.7 575.9 476.7 575.1 476.3 573.9 476 573.5 475.3 573.1 474.2 573.1 476.3 569.8 472.5 569.8M479.8 571.4 480.5 571 481.5 569.8 481.5 578.4M537.4 576.8 537.7 577.6 538.1 578 539.1 578.4 540.1 578.4 541.2 578 541.8 577.2 542.2 575.9 542.2 575.1 541.8 573.9 541.5 573.5 540.8 573.1 539.8 573.1 541.8 569.8 538.1 569.8M545.3 571.4 546 571 547 569.8 547 578.4M551.5 578 551.9 577.6 552.2 578 551.9 578.4 551.5 578M554.6 576.8 555 577.6 555.3 578 556.3 578.4 557.4 578.4 558.4 578 559.1 577.2 559.4 575.9 559.4 575.1 559.1 573.9 558.4 573.1 557.4 572.7 556.3 572.7 555.3 573.1 555 573.5 555.3 569.8 558.8 569.8M613.2 576.8 613.6 577.6 613.9 578 615 578.4 616 578.4 617 578 617.7 577.2 618.1 575.9 618.1 575.1 617.7 573.9 617.4 573.5 616.7 573.1 615.6 573.1 617.7 569.8 613.9 569.8M620.5 571.8 620.5 571.4 620.8 570.6 621.2 570.2 621.9 569.8 623.2 569.8 623.9 570.2 624.3 570.6 624.6 571.4 624.6 572.2 624.3 573.1 623.6 574.3 620.1 578.4 625 578.4M97.6 109.6 97.6 101 94.2 106.7 99.4 106.7M101.1 108 101.4 108.8 101.8 109.2 102.8 109.6 103.8 109.6 104.9 109.2 105.6 108.4 105.9 107.1 105.9 106.3 105.6 105.1 104.9 104.3 103.8 103.9 102.8 103.9 101.8 104.3 101.4 104.7 101.8 101 105.2 101M108.3 109.2 108.7 108.8 109 109.2 108.7 109.6 108.3 109.2M111.4 108 111.8 108.8 112.1 109.2 113.2 109.6 114.2 109.6 115.2 109.2 115.9 108.4 116.3 107.1 116.3 106.3 115.9 105.1 115.2 104.3 114.2 103.9 113.2 103.9 112.1 104.3 111.8 104.7 112.1 101 115.6 101M108 194.5 108 185.8 104.5 191.6 109.7 191.6M111.4 192.8 111.8 193.6 112.1 194 113.2 194.5 114.2 194.5 115.2 194 115.9 193.2 116.3 192 116.3 191.2 115.9 189.9 115.2 189.1 114.2 188.7 113.2 188.7 112.1 189.1 111.8 189.5 112.1 185.8 115.6 185.8M97.6 279.3 97.6 270.7 94.2 276.4 99.4 276.4M104.5 279.3 104.5 270.7 101.1 276.4 106.3 276.4M108.3 278.9 108.7 278.5 109 278.9 108.7 279.3 108.3 278.9M111.4 277.7 111.8 278.5 112.1 278.9 113.2 279.3 114.2 279.3 115.2 278.9 115.9 278.1 116.3 276.8 116.3 276 115.9 274.8 115.2 274 114.2 273.6 113.2 273.6 112.1 274 111.8 274.4 112.1 270.7 115.6 270.7M108 364.2 108 355.5 104.5 361.3 109.7 361.3M114.9 364.2 114.9 355.5 111.4 361.3 116.6 361.3M97.6 449 97.6 440.4 94.2 446.1 99.4 446.1M101.1 447.4 101.4 448.2 101.8 448.6 102.8 449 103.8 449 104.9 448.6 105.6 447.8 105.9 446.5 105.9 445.7 105.6 444.5 105.2 444.1 104.5 443.7 103.5 443.7 105.6 440.4 101.8 440.4M108.3 448.6 108.7 448.2 109 448.6 108.7 449 108.3 448.6M111.4 447.4 111.8 448.2 112.1 448.6 113.2 449 114.2 449 115.2 448.6 115.9 447.8 116.3 446.5 116.3 445.7 115.9 444.5 115.2 443.7 114.2 443.3 113.2 443.3 112.1 443.7 111.8 444.1 112.1 440.4 115.6 440.4M108 533.9 108 525.2 104.5 531 109.7 531M111.4 532.2 111.8 533 112.1 533.4 113.2 533.9 114.2 533.9 115.2 533.4 115.9 532.6 116.3 531.4 116.3 530.6 115.9 529.3 115.6 528.9 114.9 528.5 113.8 528.5 115.9 525.2 112.1 525.2" stroke="#000" stroke-width="1.55" stroke-linecap="round" stroke-linejoin="round" fill="none"/><path aria-label="Sea Level (cm). Date 2025.12.17. Time 00(h):00(m) GMT; Longitude (East); Latitude (North)" d="M62.6 38.7 64.1 40.2 66.3 40.9 69.3 40.9 71.5 40.2 73 38.7 73 36.4 72.2 34.9 71.5 34.2 70 33.4 65.6 32 64.1 31.2 63.4 30.5 62.6 29 62.6 27.5 64.1 26 66.3 25.3 69.3 25.3 71.5 26 73 27.5M77.4 34.9 86.3 34.9 86.3 33.4 85.5 32 84.8 31.2 83.3 30.5 81.1 30.5 79.6 31.2 78.1 32.7 77.4 34.9 77.4 36.4 78.1 38.7 79.6 40.2 81.1 40.9 83.3 40.9 84.8 40.2 86.3 38.7M99.6 30.5 99.6 40.9M99.6 32.7 98.1 31.2 96.6 30.5 94.4 30.5 92.9 31.2 91.4 32.7 90.7 34.9 90.7 36.4 91.4 38.7 92.9 40.2 94.4 40.9 96.6 40.9 98.1 40.2 99.6 38.7M117.3 25.3 117.3 40.9 126.2 40.9M129.1 34.9 138 34.9 138 33.4 137.3 32 136.5 31.2 135 30.5 132.8 30.5 131.3 31.2 129.9 32.7 129.1 34.9 129.1 36.4 129.9 38.7 131.3 40.2 132.8 40.9 135 40.9 136.5 40.2 138 38.7M141.7 30.5 146.1 40.9 150.6 30.5M154.3 34.9 163.1 34.9 163.1 33.4 162.4 32 161.6 31.2 160.2 30.5 157.9 30.5 156.5 31.2 155 32.7 154.3 34.9 154.3 36.4 155 38.7 156.5 40.2 157.9 40.9 160.2 40.9 161.6 40.2 163.1 38.7M168.3 25.3 168.3 40.9M191.2 22.3 189.7 23.8 188.2 26 186.8 29 186 32.7 186 35.7 186.8 39.4 188.2 42.4 189.7 44.6 191.2 46.1M204.5 32.7 203 31.2 201.5 30.5 199.3 30.5 197.9 31.2 196.4 32.7 195.6 34.9 195.6 36.4 196.4 38.7 197.9 40.2 199.3 40.9 201.5 40.9 203 40.2 204.5 38.7M209.7 30.5 209.7 40.9M209.7 33.4 211.9 31.2 213.4 30.5 215.6 30.5 217.1 31.2 217.8 33.4 217.8 40.9M217.8 33.4 220 31.2 221.5 30.5 223.7 30.5 225.2 31.2 225.9 33.4 225.9 40.9M231.1 22.3 232.6 23.8 234.1 26 235.5 29 236.3 32.7 236.3 35.7 235.5 39.4 234.1 42.4 232.6 44.6 231.1 46.1M242.2 40.2 242.9 39.4 243.7 40.2 242.9 40.9 242.2 40.2M261.4 25.3 261.4 40.9 266.6 40.9 268.8 40.2 270.3 38.7 271 37.2 271.8 34.9 271.8 31.2 271 29 270.3 27.5 268.8 26 266.6 25.3 261.4 25.3M285.1 30.5 285.1 40.9M285.1 32.7 283.6 31.2 282.1 30.5 279.9 30.5 278.4 31.2 276.9 32.7 276.2 34.9 276.2 36.4 276.9 38.7 278.4 40.2 279.9 40.9 282.1 40.9 283.6 40.2 285.1 38.7M289.5 30.5 294.7 30.5M291.7 25.3 291.7 37.9 292.4 40.2 293.9 40.9 295.4 40.9M299.1 34.9 308 34.9 308 33.4 307.2 32 306.5 31.2 305 30.5 302.8 30.5 301.3 31.2 299.8 32.7 299.1 34.9 299.1 36.4 299.8 38.7 301.3 40.2 302.8 40.9 305 40.9 306.5 40.2 308 38.7M325 29 325 28.2 325.7 26.7 326.4 26 327.9 25.3 330.9 25.3 332.4 26 333.1 26.7 333.8 28.2 333.8 29.7 333.1 31.2 331.6 33.4 324.2 40.9 334.6 40.9M339 32 339.7 28.2 341.2 26 343.4 25.3 344.9 25.3 347.1 26 348.6 28.2 349.3 32 349.3 34.2 348.6 37.9 347.1 40.2 344.9 40.9 343.4 40.9 341.2 40.2 339.7 37.9 339 34.2 339 32M354.5 29 354.5 28.2 355.3 26.7 356 26 357.5 25.3 360.4 25.3 361.9 26 362.7 26.7 363.4 28.2 363.4 29.7 362.7 31.2 361.2 33.4 353.8 40.9 364.1 40.9M368.6 37.9 369.3 39.4 370 40.2 372.3 40.9 374.5 40.9 376.7 40.2 378.2 38.7 378.9 36.4 378.9 34.9 378.2 32.7 376.7 31.2 374.5 30.5 372.3 30.5 370 31.2 369.3 32 370 25.3 377.4 25.3M384.1 40.2 384.8 39.4 385.6 40.2 384.8 40.9 384.1 40.2M392.9 28.2 394.4 27.5 396.6 25.3 396.6 40.9M406.3 29 406.3 28.2 407 26.7 407.7 26 409.2 25.3 412.2 25.3 413.6 26 414.4 26.7 415.1 28.2 415.1 29.7 414.4 31.2 412.9 33.4 405.5 40.9 415.9 40.9M421 40.2 421.8 39.4 422.5 40.2 421.8 40.9 421 40.2M429.9 28.2 431.4 27.5 433.6 25.3 433.6 40.9M442.5 25.3 452.8 25.3 445.4 40.9M458 40.2 458.7 39.4 459.5 40.2 458.7 40.9 458 40.2M475 25.3 485.3 25.3M480.2 25.3 480.2 40.9M489 30.5 489 40.9M488.3 25.3 489 24.5 489.8 25.3 489 26 488.3 25.3M494.9 30.5 494.9 40.9M494.9 33.4 497.1 31.2 498.6 30.5 500.8 30.5 502.3 31.2 503.1 33.4 503.1 40.9M503.1 33.4 505.3 31.2 506.8 30.5 509 30.5 510.5 31.2 511.2 33.4 511.2 40.9M516.4 34.9 525.2 34.9 525.2 33.4 524.5 32 523.8 31.2 522.3 30.5 520.1 30.5 518.6 31.2 517.1 32.7 516.4 34.9 516.4 36.4 517.1 38.7 518.6 40.2 520.1 40.9 522.3 40.9 523.8 40.2 525.2 38.7M541.5 32 542.2 28.2 543.7 26 545.9 25.3 547.4 25.3 549.6 26 551.1 28.2 551.8 32 551.8 34.2 551.1 37.9 549.6 40.2 547.4 40.9 545.9 40.9 543.7 40.2 542.2 37.9 541.5 34.2 541.5 32M556.3 32 557 28.2 558.5 26 560.7 25.3 562.2 25.3 564.4 26 565.9 28.2 566.6 32 566.6 34.2 565.9 37.9 564.4 40.2 562.2 40.9 560.7 40.9 558.5 40.2 557 37.9 556.3 34.2 556.3 32M577 22.3 575.5 23.8 574 26 572.5 29 571.8 32.7 571.8 35.7 572.5 39.4 574 42.4 575.5 44.6 577 46.1M582.1 25.3 582.1 40.9M582.1 33.4 584.4 31.2 585.8 30.5 588 30.5 589.5 31.2 590.3 33.4 590.3 40.9M595.4 22.3 596.9 23.8 598.4 26 599.9 29 600.6 32.7 600.6 35.7 599.9 39.4 598.4 42.4 596.9 44.6 595.4 46.1M606.5 31.2 607.3 30.5 608 31.2 607.3 32 606.5 31.2M606.5 40.2 607.3 39.4 608 40.2 607.3 40.9 606.5 40.2M613.2 32 613.9 28.2 615.4 26 617.6 25.3 619.1 25.3 621.3 26 622.8 28.2 623.5 32 623.5 34.2 622.8 37.9 621.3 40.2 619.1 40.9 617.6 40.9 615.4 40.2 613.9 37.9 613.2 34.2 613.2 32M628 32 628.7 28.2 630.2 26 632.4 25.3 633.9 25.3 636.1 26 637.6 28.2 638.3 32 638.3 34.2 637.6 37.9 636.1 40.2 633.9 40.9 632.4 40.9 630.2 40.2 628.7 37.9 628 34.2 628 32M648.6 22.3 647.2 23.8 645.7 26 644.2 29 643.5 32.7 643.5 35.7 644.2 39.4 645.7 42.4 647.2 44.6 648.6 46.1M653.8 30.5 653.8 40.9M653.8 33.4 656 31.2 657.5 30.5 659.7 30.5 661.2 31.2 661.9 33.4 661.9 40.9M661.9 33.4 664.2 31.2 665.6 30.5 667.9 30.5 669.3 31.2 670.1 33.4 670.1 40.9M675.2 22.3 676.7 23.8 678.2 26 679.7 29 680.4 32.7 680.4 35.7 679.7 39.4 678.2 42.4 676.7 44.6 675.2 46.1M704.8 34.9 708.5 34.9 708.5 37.2 707.8 38.7 706.3 40.2 704.8 40.9 701.9 40.9 700.4 40.2 698.9 38.7 698.2 37.2 697.4 34.9 697.4 31.2 698.2 29 698.9 27.5 700.4 26 701.9 25.3 704.8 25.3 706.3 26 707.8 27.5 708.5 29M713.7 40.9 713.7 25.3 719.6 40.9 725.5 25.3 725.5 40.9M729.2 25.3 739.5 25.3M734.4 25.3 734.4 40.9M325 591.4 325 605 332.1 605M334.4 599.8 335 597.9 336.2 596.6 337.4 595.9 339.1 595.9 340.3 596.6 341.5 597.9 342.1 599.8 342.1 601.1 341.5 603.1 340.3 604.4 339.1 605 337.4 605 336.2 604.4 335 603.1 334.4 601.1 334.4 599.8M346.2 595.9 346.2 605M346.2 598.5 348 596.6 349.2 595.9 351 595.9 352.2 596.6 352.7 598.5 352.7 605M358.7 608.9 359.8 609.5 361.6 609.5 362.8 608.9 363.4 608.2 364 606.3 364 595.9M364 597.9 362.8 596.6 361.6 595.9 359.8 595.9 358.7 596.6 357.5 597.9 356.9 599.8 356.9 601.1 357.5 603.1 358.7 604.4 359.8 605 361.6 605 362.8 604.4 364 603.1M368.7 595.9 368.7 605M368.1 591.4 368.7 590.7 369.3 591.4 368.7 592 368.1 591.4M372.2 595.9 376.4 595.9M374 591.4 374 602.4 374.6 604.4 375.8 605 377 605M380.5 595.9 380.5 602.4 381.1 604.4 382.3 605 384.1 605 385.2 604.4 387 602.4M387 595.9 387 605M398.2 591.4 398.2 605M398.2 597.9 397.1 596.6 395.9 595.9 394.1 595.9 392.9 596.6 391.7 597.9 391.2 599.8 391.2 601.1 391.7 603.1 392.9 604.4 394.1 605 395.9 605 397.1 604.4 398.2 603.1M402.4 599.8 409.5 599.8 409.5 598.5 408.9 597.2 408.3 596.6 407.1 595.9 405.3 595.9 404.2 596.6 403 597.9 402.4 599.8 402.4 601.1 403 603.1 404.2 604.4 405.3 605 407.1 605 408.3 604.4 409.5 603.1M427.2 588.8 426 590.1 424.8 592 423.7 594.6 423.1 597.9 423.1 600.5 423.7 603.7 424.8 606.3 426 608.2 427.2 609.5M431.3 597.9 436.1 597.9M439 591.4 431.3 591.4 431.3 605 439 605M449.1 595.9 449.1 605M449.1 597.9 447.9 596.6 446.7 595.9 444.9 595.9 443.8 596.6 442.6 597.9 442 599.8 442 601.1 442.6 603.1 443.8 604.4 444.9 605 446.7 605 447.9 604.4 449.1 603.1M453.2 603.1 453.8 604.4 455.6 605 457.3 605 459.1 604.4 459.7 603.1 459.7 602.4 459.1 601.1 457.9 600.5 455 599.8 453.8 599.2 453.2 597.9 453.8 596.6 455.6 595.9 457.3 595.9 459.1 596.6 459.7 597.9M462.7 595.9 466.8 595.9M464.4 591.4 464.4 602.4 465 604.4 466.2 605 467.4 605M470.4 588.8 471.5 590.1 472.7 592 473.9 594.6 474.5 597.9 474.5 600.5 473.9 603.7 472.7 606.3 471.5 608.2 470.4 609.5M67.9 381.8 81.5 381.8 81.5 374.7M72.4 365.2 81.5 365.2M74.4 365.2 73.1 366.4 72.4 367.6 72.4 369.4 73.1 370.6 74.4 371.7 76.3 372.3 77.6 372.3 79.6 371.7 80.9 370.6 81.5 369.4 81.5 367.6 80.9 366.4 79.6 365.2M72.4 361.7 72.4 357.5M67.9 359.9 78.9 359.9 80.9 359.3 81.5 358.1 81.5 356.9M72.4 353.4 81.5 353.4M67.9 354 67.2 353.4 67.9 352.8 68.5 353.4 67.9 354M72.4 349.8 72.4 345.7M67.9 348 78.9 348 80.9 347.4 81.5 346.2 81.5 345.1M72.4 341.5 78.9 341.5 80.9 340.9 81.5 339.7 81.5 337.9 80.9 336.8 78.9 335M72.4 335 81.5 335M67.9 323.7 81.5 323.7M74.4 323.7 73.1 324.9 72.4 326.1 72.4 327.9 73.1 329.1 74.4 330.2 76.3 330.8 77.6 330.8 79.6 330.2 80.9 329.1 81.5 327.9 81.5 326.1 80.9 324.9 79.6 323.7M76.3 319.6 76.3 312.4 75 312.4 73.7 313 73.1 313.6 72.4 314.8 72.4 316.6 73.1 317.8 74.4 319 76.3 319.6 77.6 319.6 79.6 319 80.9 317.8 81.5 316.6 81.5 314.8 80.9 313.6 79.6 312.4M65.3 294.7 66.6 295.8 68.5 297 71.1 298.2 74.4 298.8 77 298.8 80.2 298.2 82.8 297 84.7 295.8 86 294.7M81.5 290.5 67.9 290.5 81.5 282.2 67.9 282.2M76.3 278.1 74.4 277.5 73.1 276.3 72.4 275.1 72.4 273.3 73.1 272.1 74.4 270.9 76.3 270.3 77.6 270.3 79.6 270.9 80.9 272.1 81.5 273.3 81.5 275.1 80.9 276.3 79.6 277.5 77.6 278.1 76.3 278.1M72.4 266.2 81.5 266.2M76.3 266.2 74.4 265.6 73.1 264.4 72.4 263.2 72.4 261.4M72.4 259.7 72.4 255.5M67.9 257.9 78.9 257.9 80.9 257.3 81.5 256.1 81.5 254.9M67.9 251.4 81.5 251.4M75 251.4 73.1 249.6 72.4 248.4 72.4 246.6 73.1 245.4 75 244.8 81.5 244.8M65.3 240.7 66.6 239.5 68.5 238.3 71.1 237.1 74.4 236.5 77 236.5 80.2 237.1 82.8 238.3 84.7 239.5 86 240.7" stroke="#000" stroke-width="1.45" stroke-linecap="round" stroke-linejoin="round" fill="none"/><path aria-label="Z = 2.5 m" d="M148.6 94.9 159.1 94.9 148.6 108.7 159.1 108.7M176.4 100.8 189.9 100.8M176.4 104.8 189.9 104.8M208 98.2 208 97.5 208.7 96.2 209.5 95.6 211 94.9 214 94.9 215.5 95.6 216.2 96.2 217 97.5 217 98.8 216.2 100.2 214.7 102.1 207.2 108.7 217.7 108.7M223 108 223.8 107.4 224.5 108 223.8 108.7 223 108M229.8 106.1 230.5 107.4 231.3 108 233.5 108.7 235.8 108.7 238 108 239.5 106.7 240.3 104.8 240.3 103.4 239.5 101.5 238 100.2 235.8 99.5 233.5 99.5 231.3 100.2 230.5 100.8 231.3 94.9 238.8 94.9M257.6 99.5 257.6 108.7M257.6 102.1 259.9 100.2 261.4 99.5 263.6 99.5 265.1 100.2 265.9 102.1 265.9 108.7M265.9 102.1 268.1 100.2 269.6 99.5 271.9 99.5 273.4 100.2 274.1 102.1 274.1 108.7" stroke="#404040" stroke-width="1.2" stroke-linecap="round" stroke-linejoin="round" fill="none"/><rect x="709" y="62.00" width="14" height="493.80" fill="#860000"/><rect x="709" y="68.17" width="14" height="487.63" fill="#930000"/><rect x="709" y="74.35" width="14" height="481.45" fill="#9f0000"/><rect x="709" y="80.52" width="14" height="475.28" fill="#ac0000"/><rect x="709" y="86.69" width="14" height="469.11" fill="#b90000"/><rect x="709" y="92.86" width="14" height="462.94" fill="#c60000"/><rect x="709" y="99.03" width="14" height="456.76" fill="#d20000"/><rect x="709" y="105.21" width="14" height="450.59" fill="#df0000"/><rect x="709" y="111.38" width="14" height="444.42" fill="#ec0000"/><rect x="709" y="117.55" width="14" height="438.25" fill="#f90000"/><rect x="709" y="123.72" width="14" height="432.07" fill="#ff0600"/><rect x="709" y="129.90" width="14" height="425.90" fill="#ff1300"/><rect x="709" y="136.07" width="14" height="419.73" fill="#ff2000"/><rect x="709" y="142.24" width="14" height="413.56" fill="#ff2d00"/><rect x="709" y="148.42" width="14" height="407.38" fill="#ff3900"/><rect x="709" y="154.59" width="14" height="401.21" fill="#ff4600"/><rect x="709" y="160.76" width="14" height="395.04" fill="#ff5300"/><rect x="709" y="166.93" width="14" height="388.87" fill="#ff6000"/><rect x="709" y="173.10" width="14" height="382.69" fill="#ff6c00"/><rect x="709" y="179.28" width="14" height="376.52" fill="#ff7900"/><rect x="709" y="185.45" width="14" height="370.35" fill="#ff8600"/><rect x="709" y="191.62" width="14" height="364.18" fill="#ff9300"/><rect x="709" y="197.79" width="14" height="358.00" fill="#ff9f00"/><rect x="709" y="203.97" width="14" height="351.83" fill="#ffac00"/><rect x="709" y="210.14" width="14" height="345.66" fill="#ffb900"/><rect x="709" y="216.31" width="14" height="339.49" fill="#ffc600"/><rect x="709" y="222.49" width="14" height="333.31" fill="#ffd200"/><rect x="709" y="228.66" width="14" height="327.14" fill="#ffdf00"/><rect x="709" y="234.83" width="14" height="320.97" fill="#ffec00"/><rect x="709" y="241.00" width="14" height="314.80" fill="#fff900"/><rect x="709" y="247.18" width="14" height="308.62" fill="#f9ff06"/><rect x="709" y="253.35" width="14" height="302.45" fill="#ecff13"/><rect x="709" y="259.52" width="14" height="296.28" fill="#dfff20"/><rect x="709" y="265.69" width="14" height="290.11" fill="#d2ff2d"/><rect x="709" y="271.86" width="14" height="283.94" fill="#c6ff39"/><rect x="709" y="278.04" width="14" height="277.76" fill="#b9ff46"/><rect x="709" y="284.21" width="14" height="271.59" fill="#acff53"/><rect x="709" y="290.38" width="14" height="265.42" fill="#9fff60"/><rect x="709" y="296.55" width="14" height="259.25" fill="#93ff6c"/><rect x="709" y="302.73" width="14" height="253.07" fill="#86ff79"/><rect x="709" y="308.90" width="14" height="246.90" fill="#79ff86"/><rect x="709" y="315.07" width="14" height="240.73" fill="#6cff93"/><rect x="709" y="321.25" width="14" height="234.55" fill="#60ff9f"/><rect x="709" y="327.42" width="14" height="228.38" fill="#53ffac"/><rect x="709" y="333.59" width="14" height="222.21" fill="#46ffb9"/><rect x="709" y="339.76" width="14" height="216.04" fill="#39ffc6"/><rect x="709" y="345.94" width="14" height="209.86" fill="#2dffd2"/><rect x="709" y="352.11" width="14" height="203.69" fill="#20ffdf"/><rect x="709" y="358.28" width="14" height="197.52" fill="#13ffec"/><rect x="709" y="364.45" width="14" height="191.35" fill="#06fff9"/><rect x="709" y="370.62" width="14" height="185.17" fill="#00f9ff"/><rect x="709" y="376.80" width="14" height="179.00" fill="#00ecff"/><rect x="709" y="382.97" width="14" height="172.83" fill="#00dfff"/><rect x="709" y="389.14" width="14" height="166.66" fill="#00d2ff"/><rect x="709" y="395.31" width="14" height="160.49" fill="#00c6ff"/><rect x="709" y="401.49" width="14" height="154.31" fill="#00b9ff"/><rect x="709" y="407.66" width="14" height="148.14" fill="#00acff"/><rect x="709" y="413.83" width="14" height="141.97" fill="#009fff"/><rect x="709" y="420.00" width="14" height="135.79" fill="#0093ff"/><rect x="709" y="426.18" width="14" height="129.62" fill="#0086ff"/><rect x="709" y="432.35" width="14" height="123.45" fill="#0079ff"/><rect x="709" y="438.52" width="14" height="117.28" fill="#006cff"/><rect x="709" y="444.69" width="14" height="111.11" fill="#0060ff"/><rect x="709" y="450.87" width="14" height="104.93" fill="#0053ff"/><rect x="709" y="457.04" width="14" height="98.76" fill="#0046ff"/><rect x="709" y="463.21" width="14" height="92.59" fill="#0039ff"/><rect x="709" y="469.38" width="14" height="86.41" fill="#002dff"/><rect x="709" y="475.56" width="14" height="80.24" fill="#0020ff"/><rect x="709" y="481.73" width="14" height="74.07" fill="#0013ff"/><rect x="709" y="487.90" width="14" height="67.90" fill="#0006ff"/><rect x="709" y="494.07" width="14" height="61.73" fill="#0000f9"/><rect x="709" y="500.25" width="14" height="55.55" fill="#0000ec"/><rect x="709" y="506.42" width="14" height="49.38" fill="#0000df"/><rect x="709" y="512.59" width="14" height="43.21" fill="#0000d2"/><rect x="709" y="518.76" width="14" height="37.03" fill="#0000c6"/><rect x="709" y="524.94" width="14" height="30.86" fill="#0000b9"/><rect x="709" y="531.11" width="14" height="24.69" fill="#0000ac"/><rect x="709" y="537.28" width="14" height="18.52" fill="#00009f"/><rect x="709" y="543.45" width="14" height="12.35" fill="#000093"/><rect x="709" y="549.63" width="14" height="6.17" fill="#000086"/></svg><div class="cb" style="top:59.2px">0.60</div><div class="cb" style="top:175px">0.54</div><div class="cb" style="top:297px">0.48</div><div class="cb" style="top:419px">0.42</div><div class="cb" style="top:541.2px">0.35</div></body></html>
